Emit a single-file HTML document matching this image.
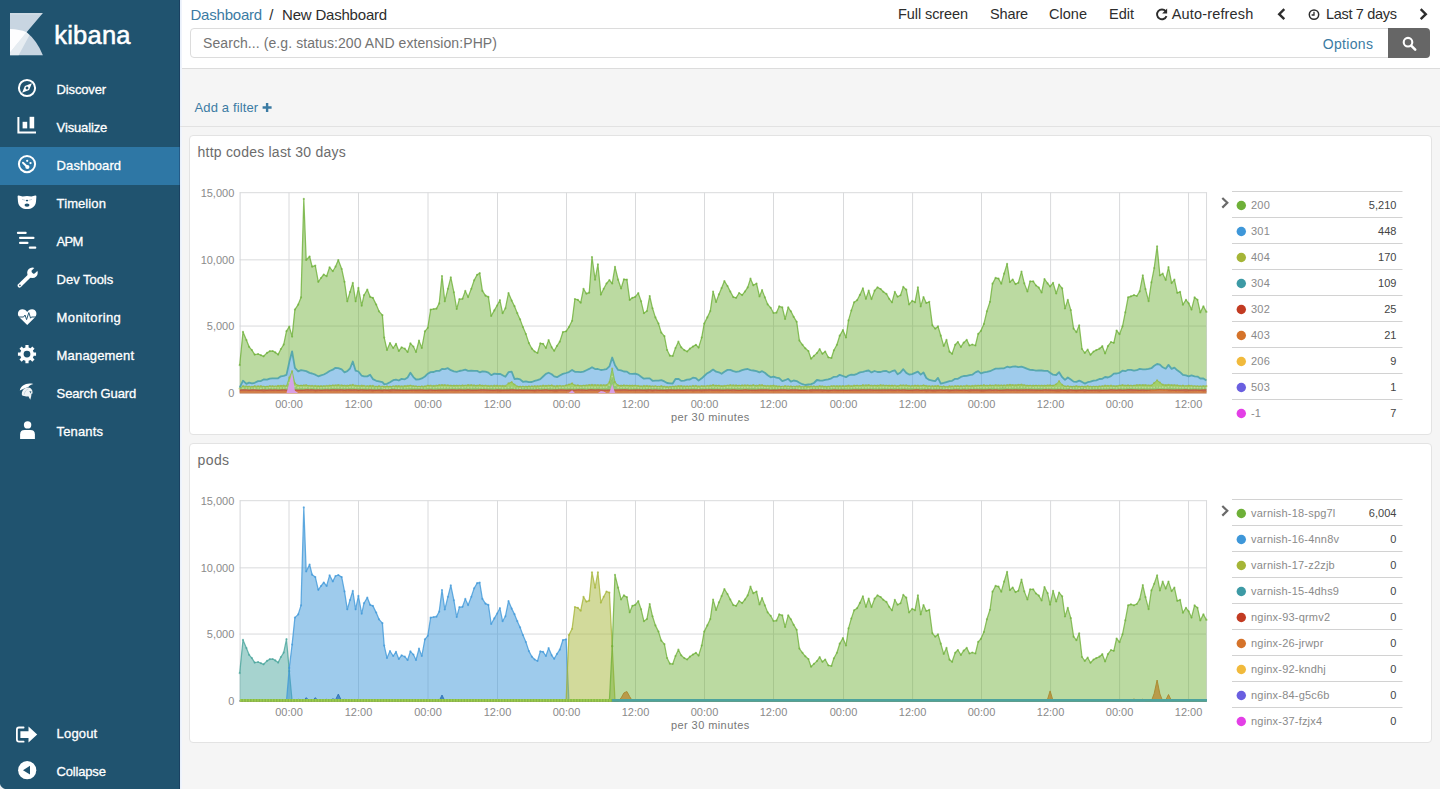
<!DOCTYPE html>
<html><head><meta charset="utf-8"><title>New Dashboard - Kibana</title>
<style>
html,body{margin:0;padding:0}
body{width:1440px;height:789px;overflow:hidden;background:#f5f5f5;font-family:"Liberation Sans", Arial, sans-serif;position:relative}
.box{position:absolute}
.t{position:absolute;white-space:pre;margin:0}
svg{position:absolute;overflow:visible}
svg text{font-family:"Liberation Sans", Arial, sans-serif}
</style></head><body>
<div class="box" style="left:0;top:0;width:180px;height:789px;background:#20536f"></div>
<div class="box" style="left:0;top:147px;width:180px;height:38px;background:#2e77a5"></div>
<div class="box" style="left:180px;top:0;width:1260px;height:68px;background:#fff;border-bottom:1px solid #dcdcdc;box-sizing:content-box"></div>
<div class="box" style="left:179px;top:0;width:1px;height:789px;background:rgba(10,20,60,0.28)"></div>
<div class="box" style="left:180px;top:0;width:2px;height:789px;background:linear-gradient(90deg,#e6eefb,#f3f6fc)"></div>
<div class="box" style="left:180px;top:126px;width:1260px;height:1px;background:#e2e2e2"></div>
<div class="box" style="left:190px;top:28px;width:1199px;height:30px;background:#fff;border:1px solid #dcdcdc;border-radius:4px 0 0 4px;box-sizing:border-box"></div>
<div class="box" style="left:1388px;top:28px;width:42px;height:30px;background:#666;border-radius:0 4px 4px 0"></div>
<div class="box" style="left:188.5px;top:135px;width:1243px;height:300px;background:#fff;border:1px solid #e3e3e3;border-radius:4px;box-sizing:border-box"></div>
<div class="box" style="left:188.5px;top:443px;width:1243px;height:300px;background:#fff;border:1px solid #e3e3e3;border-radius:4px;box-sizing:border-box"></div>
<svg width="1440" height="789" viewBox="0 0 1440 789" style="left:0;top:0">
<defs>
<marker id="m-green" markerWidth="4" markerHeight="4" refX="2" refY="2" markerUnits="userSpaceOnUse"><circle cx="2" cy="2" r="1.1" fill="#6eb038" fill-opacity="0.6"/></marker>
<marker id="m-blue" markerWidth="4" markerHeight="4" refX="2" refY="2" markerUnits="userSpaceOnUse"><circle cx="2" cy="2" r="1.1" fill="#3e97d9" fill-opacity="0.6"/></marker>
<marker id="m-olive" markerWidth="4" markerHeight="4" refX="2" refY="2" markerUnits="userSpaceOnUse"><circle cx="2" cy="2" r="1.1" fill="#a5b537" fill-opacity="0.6"/></marker>
<marker id="m-teal" markerWidth="4" markerHeight="4" refX="2" refY="2" markerUnits="userSpaceOnUse"><circle cx="2" cy="2" r="1.1" fill="#3d9aa5" fill-opacity="0.6"/></marker>
<marker id="m-red" markerWidth="4" markerHeight="4" refX="2" refY="2" markerUnits="userSpaceOnUse"><circle cx="2" cy="2" r="1.1" fill="#c23b22" fill-opacity="0.6"/></marker>
<marker id="m-orange" markerWidth="4" markerHeight="4" refX="2" refY="2" markerUnits="userSpaceOnUse"><circle cx="2" cy="2" r="1.1" fill="#d5732a" fill-opacity="0.6"/></marker>
<marker id="m-yellow" markerWidth="4" markerHeight="4" refX="2" refY="2" markerUnits="userSpaceOnUse"><circle cx="2" cy="2" r="1.1" fill="#f1ba3c" fill-opacity="0.6"/></marker>
<marker id="m-purple" markerWidth="4" markerHeight="4" refX="2" refY="2" markerUnits="userSpaceOnUse"><circle cx="2" cy="2" r="1.1" fill="#6a5fe0" fill-opacity="0.6"/></marker>
<marker id="m-magenta" markerWidth="4" markerHeight="4" refX="2" refY="2" markerUnits="userSpaceOnUse"><circle cx="2" cy="2" r="1.1" fill="#e33fe6" fill-opacity="0.6"/></marker>
<marker id="m-teal2" markerWidth="4" markerHeight="4" refX="2" refY="2" markerUnits="userSpaceOnUse"><circle cx="2" cy="2" r="1.1" fill="#45a39a" fill-opacity="0.6"/></marker>
<marker id="m-pale" markerWidth="4" markerHeight="4" refX="2" refY="2" markerUnits="userSpaceOnUse"><circle cx="2" cy="2" r="0.9" fill="#d9edb5" fill-opacity="0.5"/></marker>
</defs>
<line x1="239.6" y1="192.70" x2="1207.06" y2="192.70" stroke="#d9dadc" stroke-width="1"/>
<line x1="239.6" y1="259.85" x2="1207.06" y2="259.85" stroke="#d9dadc" stroke-width="1"/>
<line x1="239.6" y1="326.05" x2="1207.06" y2="326.05" stroke="#d9dadc" stroke-width="1"/>
<line x1="239.6" y1="393.05" x2="1207.06" y2="393.05" stroke="#d9dadc" stroke-width="1"/>
<line x1="289.00" y1="192.5" x2="289.00" y2="393.05" stroke="#d9dadc" stroke-width="1"/>
<line x1="358.50" y1="192.5" x2="358.50" y2="393.05" stroke="#d9dadc" stroke-width="1"/>
<line x1="428.00" y1="192.5" x2="428.00" y2="393.05" stroke="#d9dadc" stroke-width="1"/>
<line x1="497.50" y1="192.5" x2="497.50" y2="393.05" stroke="#d9dadc" stroke-width="1"/>
<line x1="566.50" y1="192.5" x2="566.50" y2="393.05" stroke="#d9dadc" stroke-width="1"/>
<line x1="635.50" y1="192.5" x2="635.50" y2="393.05" stroke="#d9dadc" stroke-width="1"/>
<line x1="704.50" y1="192.5" x2="704.50" y2="393.05" stroke="#d9dadc" stroke-width="1"/>
<line x1="773.50" y1="192.5" x2="773.50" y2="393.05" stroke="#d9dadc" stroke-width="1"/>
<line x1="843.50" y1="192.5" x2="843.50" y2="393.05" stroke="#d9dadc" stroke-width="1"/>
<line x1="912.60" y1="192.5" x2="912.60" y2="393.05" stroke="#d9dadc" stroke-width="1"/>
<line x1="981.50" y1="192.5" x2="981.50" y2="393.05" stroke="#d9dadc" stroke-width="1"/>
<line x1="1050.60" y1="192.5" x2="1050.60" y2="393.05" stroke="#d9dadc" stroke-width="1"/>
<line x1="1119.60" y1="192.5" x2="1119.60" y2="393.05" stroke="#d9dadc" stroke-width="1"/>
<line x1="1188.56" y1="192.5" x2="1188.56" y2="393.05" stroke="#d9dadc" stroke-width="1"/>
<line x1="240.1" y1="192.5" x2="240.1" y2="393.05" stroke="#d4d5d8" stroke-width="1"/>
<line x1="1206.56" y1="192.5" x2="1206.56" y2="393.05" stroke="#d9dadc" stroke-width="1"/>
<g>
<path d="M239.7,365.2 243.0,331.9 246.4,340.1 249.1,346.8 251.9,350.1 254.7,354.6 258.1,354.0 260.9,355.2 263.6,356.3 267.0,352.9 269.8,351.2 272.6,351.0 275.3,352.4 278.1,354.6 280.9,349.0 283.7,344.6 286.5,331.2 289.3,326.7 292.1,336.6 294.9,309.6 298.2,304.6 301.0,297.4 303.8,198.9 306.2,260.0 309.6,256.5 312.1,266.7 315.3,265.6 318.3,281.8 321.0,278.0 323.8,274.5 326.6,276.2 329.6,267.3 332.8,271.2 335.5,266.7 338.3,260.0 341.7,269.0 344.5,281.8 347.3,301.3 350.0,292.0 352.8,282.9 355.6,301.3 358.4,287.9 361.7,305.7 364.0,295.2 367.3,289.6 370.1,296.8 372.9,297.9 376.2,304.6 379.0,311.3 382.4,315.2 384.2,337.6 387.0,350.0 390.0,343.1 393.2,348.0 396.0,343.8 398.8,351.0 401.6,347.3 404.8,348.7 407.6,352.0 410.4,343.4 413.4,346.6 416.0,352.0 419.0,340.6 421.8,348.0 424.9,331.3 427.8,327.8 430.6,309.7 433.7,309.0 436.4,308.7 439.2,303.4 442.0,276.0 444.8,301.3 447.9,288.8 450.8,277.4 453.9,292.3 456.7,309.0 459.4,299.2 462.5,298.8 465.3,290.9 468.1,297.1 471.3,288.8 474.1,280.4 477.1,274.8 479.7,273.2 482.4,290.9 485.5,295.7 488.4,296.9 491.2,316.0 494.3,310.4 497.1,305.5 499.9,300.2 502.6,313.2 505.4,308.3 508.5,293.0 511.7,300.6 514.5,306.2 517.3,313.2 520.1,319.4 522.9,327.1 525.9,334.1 528.9,343.1 531.9,348.7 534.7,351.5 537.5,353.0 540.3,343.4 543.1,343.8 545.9,348.0 548.6,340.1 551.7,347.3 554.2,350.8 557.0,345.9 559.8,341.7 562.9,332.0 566.1,331.3 568.9,327.1 572.1,320.8 574.9,299.0 577.9,299.9 580.7,302.7 583.5,288.8 586.4,293.7 589.2,292.7 592.0,257.0 595.1,279.7 597.9,264.4 600.9,294.6 603.7,288.8 606.5,283.5 609.4,280.1 612.2,283.5 615.0,266.8 618.1,279.7 621.1,288.5 623.9,279.3 626.9,279.7 629.7,299.9 632.4,297.8 635.2,296.9 638.3,293.2 641.1,301.3 643.9,313.2 646.9,311.1 649.7,296.0 652.5,308.3 655.4,317.4 658.5,323.6 661.3,332.7 664.4,336.2 667.1,350.0 669.9,355.7 672.7,356.0 675.5,348.0 678.4,341.7 681.2,347.3 684.3,350.1 687.1,351.5 689.9,348.7 692.9,346.6 695.9,344.8 698.6,347.6 701.7,337.6 704.2,323.6 707.3,317.4 710.3,311.1 713.1,291.6 716.1,302.0 718.9,294.4 721.6,288.1 724.4,281.1 727.5,286.0 730.3,291.6 733.3,297.1 736.1,297.8 739.1,293.0 742.1,295.1 744.9,291.6 747.7,287.4 750.5,278.7 753.3,285.3 756.5,283.5 759.5,296.4 762.1,290.1 764.9,297.4 767.7,304.4 770.7,307.8 773.5,313.0 776.4,312.7 779.2,306.4 782.3,307.4 785.1,319.0 788.2,307.4 790.9,311.3 793.7,316.9 796.7,321.8 799.4,340.6 802.5,344.8 805.3,348.3 808.4,351.0 811.1,358.7 813.9,355.9 816.9,353.1 819.7,349.2 822.4,353.8 825.2,351.5 828.3,357.3 831.4,358.0 833.9,350.3 836.9,344.8 839.7,335.7 842.9,330.1 846.0,337.5 848.5,320.4 851.3,310.6 854.1,302.3 857.1,300.2 859.9,294.9 862.9,288.3 865.9,298.8 868.7,290.7 871.5,299.1 874.6,290.7 877.5,287.4 880.6,289.0 883.3,291.8 886.4,293.9 889.2,298.8 892.0,302.3 894.8,291.8 897.6,296.7 900.5,295.3 903.3,286.9 906.3,289.7 909.1,304.4 912.2,300.9 915.0,302.3 917.9,287.4 920.7,306.4 923.5,297.1 926.3,303.0 929.3,301.8 932.4,325.3 935.2,328.7 938.0,326.4 940.8,335.7 943.7,345.9 946.5,339.9 949.5,351.7 952.1,353.8 955.2,344.8 957.9,342.0 960.9,346.9 963.7,342.7 966.7,339.9 969.5,345.5 972.3,344.5 975.4,345.5 978.2,333.9 980.9,330.8 983.9,323.9 986.9,311.3 990.0,301.8 992.5,283.7 995.6,277.9 998.5,278.6 1001.3,283.7 1004.1,273.7 1007.1,263.9 1009.9,282.1 1012.7,279.5 1015.5,284.1 1018.3,282.8 1021.5,271.6 1024.3,283.4 1027.4,291.5 1030.1,281.4 1033.2,281.4 1036.0,285.5 1038.8,287.6 1041.6,292.5 1044.5,279.0 1047.6,283.4 1050.1,286.5 1053.1,282.8 1056.2,293.5 1059.1,284.6 1062.2,288.3 1065.0,308.5 1067.8,299.9 1070.8,310.2 1073.6,328.7 1076.4,332.2 1079.2,325.3 1082.0,349.0 1084.8,352.9 1087.7,349.7 1090.5,354.8 1093.6,351.5 1096.3,350.1 1099.4,348.7 1102.3,346.2 1105.1,353.4 1107.9,346.2 1111.0,342.0 1113.8,342.8 1116.6,330.5 1119.5,334.2 1122.5,326.3 1125.3,312.4 1128.1,297.4 1130.9,296.3 1134.0,295.2 1136.8,296.0 1139.7,291.4 1142.8,275.3 1145.5,289.2 1148.6,301.2 1151.4,282.4 1154.2,268.2 1157.1,246.4 1159.9,275.4 1162.7,273.7 1165.7,279.9 1168.5,267.1 1171.6,283.1 1174.4,279.6 1177.3,292.8 1180.1,291.9 1182.9,304.7 1186.0,299.8 1188.7,303.3 1191.5,309.6 1194.6,297.4 1197.5,299.8 1200.3,312.4 1203.4,306.4 1206.4,311.9 L1206.4,380.6 1203.4,378.5 1200.3,378.5 1197.5,376.6 1194.6,376.4 1191.5,375.4 1188.7,376.3 1186.0,375.3 1182.9,374.9 1180.1,372.2 1177.3,370.3 1174.4,367.6 1171.6,368.9 1168.5,364.9 1165.7,368.7 1162.7,367.3 1159.9,364.6 1157.1,364.0 1154.2,365.8 1151.4,368.2 1148.6,368.9 1145.5,369.3 1142.8,369.3 1139.7,368.9 1136.8,370.2 1134.0,370.6 1130.9,369.8 1128.1,369.8 1125.3,371.2 1122.5,370.7 1119.5,372.8 1116.6,373.5 1113.8,373.7 1111.0,376.2 1107.9,377.5 1105.1,377.0 1102.3,378.8 1099.4,379.0 1096.3,380.3 1093.6,380.6 1090.5,381.7 1087.7,382.2 1084.8,383.6 1082.0,381.9 1079.2,380.6 1076.4,381.9 1073.6,381.6 1070.8,379.5 1067.8,377.5 1065.0,379.9 1062.2,377.2 1059.1,372.2 1056.2,375.0 1053.1,374.7 1050.1,372.8 1047.6,370.9 1044.5,370.8 1041.6,370.5 1038.8,370.5 1036.0,370.7 1033.2,370.0 1030.1,369.9 1027.4,368.9 1024.3,367.6 1021.5,366.7 1018.3,367.2 1015.5,366.4 1012.7,366.6 1009.9,367.3 1007.1,366.7 1004.1,368.3 1001.3,368.3 998.5,368.6 995.6,368.7 992.5,370.0 990.0,371.2 986.9,371.8 983.9,372.3 980.9,373.4 978.2,371.1 975.4,372.4 972.3,374.7 969.5,375.1 966.7,375.9 963.7,376.0 960.9,376.9 957.9,378.8 955.2,378.8 952.1,380.8 949.5,381.2 946.5,382.1 943.7,382.9 940.8,383.6 938.0,377.9 935.2,381.2 932.4,380.6 929.3,379.9 926.3,378.0 923.5,372.5 920.7,374.6 917.9,371.7 915.0,372.9 912.2,374.1 909.1,374.5 906.3,372.9 903.3,369.2 900.5,372.4 897.6,374.3 894.8,370.3 892.0,371.2 889.2,372.5 886.4,371.0 883.3,371.2 880.6,372.0 877.5,372.0 874.6,371.0 871.5,372.4 868.7,370.5 865.9,371.0 862.9,371.9 859.9,372.4 857.1,373.8 854.1,374.9 851.3,374.7 848.5,375.5 846.0,377.2 842.9,376.0 839.7,374.8 836.9,376.7 833.9,376.8 831.4,378.3 828.3,379.4 825.2,379.9 822.4,380.6 819.7,380.5 816.9,380.0 813.9,383.0 811.1,384.2 808.4,384.5 805.3,385.0 802.5,384.2 799.4,382.7 796.7,381.1 793.7,380.5 790.9,381.7 788.2,378.8 785.1,380.2 782.3,381.2 779.2,378.2 776.4,377.7 773.5,376.6 770.7,377.3 767.7,375.2 764.9,372.8 762.1,371.2 759.5,372.3 756.5,371.1 753.3,370.5 750.5,370.1 747.7,369.0 744.9,369.3 742.1,370.2 739.1,371.3 736.1,371.9 733.3,371.2 730.3,369.9 727.5,369.9 724.4,371.7 721.6,373.8 718.9,372.3 716.1,371.7 713.1,369.6 710.3,371.6 707.3,373.2 704.2,376.0 701.7,378.3 698.6,380.6 695.9,378.2 692.9,377.7 689.9,379.5 687.1,379.7 684.3,380.6 681.2,380.9 678.4,378.8 675.5,379.0 672.7,383.5 669.9,383.4 667.1,383.0 664.4,381.4 661.3,380.1 658.5,380.6 655.4,380.7 652.5,380.8 649.7,378.4 646.9,378.3 643.9,378.7 641.1,376.7 638.3,374.6 635.2,373.7 632.4,373.9 629.7,373.7 626.9,371.6 623.9,371.5 621.1,370.4 618.1,369.9 615.0,365.3 612.2,357.5 609.4,366.4 606.5,369.2 603.7,369.7 600.9,370.0 597.9,369.0 595.1,369.1 592.0,367.2 589.2,368.9 586.4,370.2 583.5,371.6 580.7,372.1 577.9,371.8 574.9,371.8 572.1,370.0 568.9,372.1 566.1,373.0 562.9,373.9 559.8,375.5 557.0,377.2 554.2,376.4 551.7,374.2 548.6,372.7 545.9,373.9 543.1,376.5 540.3,379.1 537.5,380.2 534.7,380.9 531.9,382.0 528.9,382.2 525.9,381.3 522.9,381.8 520.1,379.4 517.3,378.6 514.5,379.0 511.7,371.7 508.5,372.2 505.4,376.8 502.6,375.3 499.9,373.8 497.1,374.0 494.3,373.6 491.2,375.2 488.4,372.7 485.5,371.7 482.4,371.3 479.7,372.3 477.1,370.9 474.1,370.9 471.3,370.7 468.1,370.8 465.3,369.6 462.5,370.4 459.4,371.0 456.7,371.8 453.9,371.4 450.8,370.2 447.9,368.2 444.8,369.1 442.0,368.9 439.2,370.9 436.4,370.9 433.7,372.0 430.6,372.1 427.8,373.7 424.9,376.5 421.8,378.4 419.0,379.3 416.0,379.5 413.4,377.1 410.4,372.7 407.6,377.5 404.8,379.3 401.6,378.9 398.8,380.5 396.0,379.6 393.2,380.2 390.0,382.2 387.0,383.8 384.2,384.2 382.4,382.1 379.0,381.4 376.2,380.8 372.9,379.1 370.1,374.8 367.3,376.4 364.0,376.3 361.7,375.7 358.4,371.5 355.6,370.7 352.8,361.5 350.0,368.5 347.3,371.1 344.5,372.3 341.7,369.4 338.3,368.1 335.5,367.8 332.8,369.7 329.6,371.0 326.6,373.0 323.8,374.5 321.0,375.4 318.3,376.3 315.3,374.7 312.1,373.5 309.6,372.9 306.2,371.1 303.8,370.6 301.0,370.1 298.2,371.3 294.9,367.8 292.1,351.3 289.3,362.1 286.5,374.9 283.7,375.8 280.9,376.3 278.1,378.3 275.3,378.3 272.6,378.4 269.8,378.7 267.0,379.7 263.6,379.4 260.9,381.1 258.1,381.1 254.7,382.8 251.9,383.3 249.1,382.6 246.4,383.9 243.0,380.7 239.7,387.7Z" fill="#6eb038" fill-opacity="0.47"/>
<path d="M239.7,387.7 243.0,380.7 246.4,383.9 249.1,382.6 251.9,383.3 254.7,382.8 258.1,381.1 260.9,381.1 263.6,379.4 267.0,379.7 269.8,378.7 272.6,378.4 275.3,378.3 278.1,378.3 280.9,376.3 283.7,375.8 286.5,374.9 289.3,362.1 292.1,351.3 294.9,367.8 298.2,371.3 301.0,370.1 303.8,370.6 306.2,371.1 309.6,372.9 312.1,373.5 315.3,374.7 318.3,376.3 321.0,375.4 323.8,374.5 326.6,373.0 329.6,371.0 332.8,369.7 335.5,367.8 338.3,368.1 341.7,369.4 344.5,372.3 347.3,371.1 350.0,368.5 352.8,361.5 355.6,370.7 358.4,371.5 361.7,375.7 364.0,376.3 367.3,376.4 370.1,374.8 372.9,379.1 376.2,380.8 379.0,381.4 382.4,382.1 384.2,384.2 387.0,383.8 390.0,382.2 393.2,380.2 396.0,379.6 398.8,380.5 401.6,378.9 404.8,379.3 407.6,377.5 410.4,372.7 413.4,377.1 416.0,379.5 419.0,379.3 421.8,378.4 424.9,376.5 427.8,373.7 430.6,372.1 433.7,372.0 436.4,370.9 439.2,370.9 442.0,368.9 444.8,369.1 447.9,368.2 450.8,370.2 453.9,371.4 456.7,371.8 459.4,371.0 462.5,370.4 465.3,369.6 468.1,370.8 471.3,370.7 474.1,370.9 477.1,370.9 479.7,372.3 482.4,371.3 485.5,371.7 488.4,372.7 491.2,375.2 494.3,373.6 497.1,374.0 499.9,373.8 502.6,375.3 505.4,376.8 508.5,372.2 511.7,371.7 514.5,379.0 517.3,378.6 520.1,379.4 522.9,381.8 525.9,381.3 528.9,382.2 531.9,382.0 534.7,380.9 537.5,380.2 540.3,379.1 543.1,376.5 545.9,373.9 548.6,372.7 551.7,374.2 554.2,376.4 557.0,377.2 559.8,375.5 562.9,373.9 566.1,373.0 568.9,372.1 572.1,370.0 574.9,371.8 577.9,371.8 580.7,372.1 583.5,371.6 586.4,370.2 589.2,368.9 592.0,367.2 595.1,369.1 597.9,369.0 600.9,370.0 603.7,369.7 606.5,369.2 609.4,366.4 612.2,357.5 615.0,365.3 618.1,369.9 621.1,370.4 623.9,371.5 626.9,371.6 629.7,373.7 632.4,373.9 635.2,373.7 638.3,374.6 641.1,376.7 643.9,378.7 646.9,378.3 649.7,378.4 652.5,380.8 655.4,380.7 658.5,380.6 661.3,380.1 664.4,381.4 667.1,383.0 669.9,383.4 672.7,383.5 675.5,379.0 678.4,378.8 681.2,380.9 684.3,380.6 687.1,379.7 689.9,379.5 692.9,377.7 695.9,378.2 698.6,380.6 701.7,378.3 704.2,376.0 707.3,373.2 710.3,371.6 713.1,369.6 716.1,371.7 718.9,372.3 721.6,373.8 724.4,371.7 727.5,369.9 730.3,369.9 733.3,371.2 736.1,371.9 739.1,371.3 742.1,370.2 744.9,369.3 747.7,369.0 750.5,370.1 753.3,370.5 756.5,371.1 759.5,372.3 762.1,371.2 764.9,372.8 767.7,375.2 770.7,377.3 773.5,376.6 776.4,377.7 779.2,378.2 782.3,381.2 785.1,380.2 788.2,378.8 790.9,381.7 793.7,380.5 796.7,381.1 799.4,382.7 802.5,384.2 805.3,385.0 808.4,384.5 811.1,384.2 813.9,383.0 816.9,380.0 819.7,380.5 822.4,380.6 825.2,379.9 828.3,379.4 831.4,378.3 833.9,376.8 836.9,376.7 839.7,374.8 842.9,376.0 846.0,377.2 848.5,375.5 851.3,374.7 854.1,374.9 857.1,373.8 859.9,372.4 862.9,371.9 865.9,371.0 868.7,370.5 871.5,372.4 874.6,371.0 877.5,372.0 880.6,372.0 883.3,371.2 886.4,371.0 889.2,372.5 892.0,371.2 894.8,370.3 897.6,374.3 900.5,372.4 903.3,369.2 906.3,372.9 909.1,374.5 912.2,374.1 915.0,372.9 917.9,371.7 920.7,374.6 923.5,372.5 926.3,378.0 929.3,379.9 932.4,380.6 935.2,381.2 938.0,377.9 940.8,383.6 943.7,382.9 946.5,382.1 949.5,381.2 952.1,380.8 955.2,378.8 957.9,378.8 960.9,376.9 963.7,376.0 966.7,375.9 969.5,375.1 972.3,374.7 975.4,372.4 978.2,371.1 980.9,373.4 983.9,372.3 986.9,371.8 990.0,371.2 992.5,370.0 995.6,368.7 998.5,368.6 1001.3,368.3 1004.1,368.3 1007.1,366.7 1009.9,367.3 1012.7,366.6 1015.5,366.4 1018.3,367.2 1021.5,366.7 1024.3,367.6 1027.4,368.9 1030.1,369.9 1033.2,370.0 1036.0,370.7 1038.8,370.5 1041.6,370.5 1044.5,370.8 1047.6,370.9 1050.1,372.8 1053.1,374.7 1056.2,375.0 1059.1,372.2 1062.2,377.2 1065.0,379.9 1067.8,377.5 1070.8,379.5 1073.6,381.6 1076.4,381.9 1079.2,380.6 1082.0,381.9 1084.8,383.6 1087.7,382.2 1090.5,381.7 1093.6,380.6 1096.3,380.3 1099.4,379.0 1102.3,378.8 1105.1,377.0 1107.9,377.5 1111.0,376.2 1113.8,373.7 1116.6,373.5 1119.5,372.8 1122.5,370.7 1125.3,371.2 1128.1,369.8 1130.9,369.8 1134.0,370.6 1136.8,370.2 1139.7,368.9 1142.8,369.3 1145.5,369.3 1148.6,368.9 1151.4,368.2 1154.2,365.8 1157.1,364.0 1159.9,364.6 1162.7,367.3 1165.7,368.7 1168.5,364.9 1171.6,368.9 1174.4,367.6 1177.3,370.3 1180.1,372.2 1182.9,374.9 1186.0,375.3 1188.7,376.3 1191.5,375.4 1194.6,376.4 1197.5,376.6 1200.3,378.5 1203.4,378.5 1206.4,380.6 L1206.4,386.2 1203.4,386.0 1200.3,386.3 1197.5,386.2 1194.6,386.1 1191.5,385.8 1188.7,385.6 1186.0,386.0 1182.9,385.6 1180.1,385.9 1177.3,385.3 1174.4,385.2 1171.6,385.1 1168.5,384.8 1165.7,385.1 1162.7,384.7 1159.9,382.5 1157.1,380.3 1154.2,382.9 1151.4,385.3 1148.6,385.4 1145.5,385.0 1142.8,385.0 1139.7,385.0 1136.8,385.1 1134.0,385.5 1130.9,385.7 1128.1,385.3 1125.3,385.5 1122.5,385.1 1119.5,385.5 1116.6,386.0 1113.8,386.0 1111.0,385.7 1107.9,385.8 1105.1,385.7 1102.3,386.2 1099.4,386.3 1096.3,386.5 1093.6,386.5 1090.5,386.6 1087.7,386.2 1084.8,386.5 1082.0,386.5 1079.2,386.6 1076.4,386.1 1073.6,386.6 1070.8,386.5 1067.8,386.2 1065.0,386.4 1062.2,384.8 1059.1,381.2 1056.2,384.3 1053.1,385.6 1050.1,385.3 1047.6,385.4 1044.5,385.6 1041.6,385.6 1038.8,385.7 1036.0,385.5 1033.2,385.6 1030.1,385.6 1027.4,385.5 1024.3,385.2 1021.5,384.7 1018.3,384.8 1015.5,385.2 1012.7,385.0 1009.9,384.8 1007.1,385.2 1004.1,385.4 1001.3,385.4 998.5,385.3 995.6,385.2 992.5,385.5 990.0,385.3 986.9,385.7 983.9,385.2 980.9,385.5 978.2,385.6 975.4,385.7 972.3,385.8 969.5,386.1 966.7,385.6 963.7,386.2 960.9,386.1 957.9,386.1 955.2,386.0 952.1,386.4 949.5,386.2 946.5,386.8 943.7,386.4 940.8,386.6 938.0,385.8 935.2,386.1 932.4,386.2 929.3,386.1 926.3,385.8 923.5,385.3 920.7,385.9 917.9,385.7 915.0,385.6 912.2,385.9 909.1,385.9 906.3,385.3 903.3,385.4 900.5,385.3 897.6,386.0 894.8,385.7 892.0,385.6 889.2,385.6 886.4,385.5 883.3,385.4 880.6,385.2 877.5,385.6 874.6,385.5 871.5,385.7 868.7,385.1 865.9,385.3 862.9,385.2 859.9,385.8 857.1,385.5 854.1,385.6 851.3,386.1 848.5,385.6 846.0,386.1 842.9,386.0 839.7,386.0 836.9,386.1 833.9,386.0 831.4,386.1 828.3,386.6 825.2,386.6 822.4,386.3 819.7,386.1 816.9,386.5 813.9,386.4 811.1,386.4 808.4,386.7 805.3,386.5 802.5,386.9 799.4,386.2 796.7,386.4 793.7,386.6 790.9,386.4 788.2,386.4 785.1,386.0 782.3,386.6 779.2,386.3 776.4,386.1 773.5,385.6 770.7,385.8 767.7,385.9 764.9,385.9 762.1,385.2 759.5,385.2 756.5,385.7 753.3,385.1 750.5,385.6 747.7,385.3 744.9,385.3 742.1,385.4 739.1,385.6 736.1,385.4 733.3,385.3 730.3,385.2 727.5,385.5 724.4,385.8 721.6,386.0 718.9,385.5 716.1,385.6 713.1,385.1 710.3,385.7 707.3,385.9 704.2,386.2 701.7,386.0 698.6,386.3 695.9,385.9 692.9,385.9 689.9,386.3 687.1,386.3 684.3,386.3 681.2,386.0 678.4,386.0 675.5,386.4 672.7,386.5 669.9,386.8 667.1,386.9 664.4,386.6 661.3,386.1 658.5,386.6 655.4,386.2 652.5,386.3 649.7,386.1 646.9,385.9 643.9,385.9 641.1,386.3 638.3,385.8 635.2,385.6 632.4,385.6 629.7,385.6 626.9,385.5 623.9,385.3 621.1,385.7 618.1,385.4 615.0,382.1 612.2,368.5 609.4,382.1 606.5,385.1 603.7,385.2 600.9,385.1 597.9,385.2 595.1,385.0 592.0,384.9 589.2,385.0 586.4,385.4 583.5,385.5 580.7,385.8 577.9,385.3 574.9,385.3 572.1,383.4 568.9,384.5 566.1,385.4 562.9,386.0 559.8,385.8 557.0,385.9 554.2,386.2 551.7,385.4 548.6,385.7 545.9,385.8 543.1,385.7 540.3,386.0 537.5,386.2 534.7,386.2 531.9,386.4 528.9,386.4 525.9,386.6 522.9,386.6 520.1,386.6 517.3,386.4 514.5,384.5 511.7,382.2 508.5,383.3 505.4,385.9 502.6,385.8 499.9,385.9 497.1,385.7 494.3,385.7 491.2,385.9 488.4,385.9 485.5,385.6 482.4,385.6 479.7,385.2 477.1,385.6 474.1,385.4 471.3,385.1 468.1,385.1 465.3,385.5 462.5,385.4 459.4,385.7 456.7,385.5 453.9,385.6 450.8,385.5 447.9,385.3 444.8,385.1 442.0,385.0 439.2,385.2 436.4,385.7 433.7,385.8 430.6,385.7 427.8,385.5 424.9,386.3 421.8,386.4 419.0,386.5 416.0,386.3 413.4,386.1 410.4,385.5 407.6,385.9 404.8,386.0 401.6,386.3 398.8,386.0 396.0,386.1 393.2,386.3 390.0,386.6 387.0,386.4 384.2,386.7 382.4,386.5 379.0,386.2 376.2,386.6 372.9,385.9 370.1,385.8 367.3,386.2 364.0,385.9 361.7,385.7 358.4,385.8 355.6,385.6 352.8,384.9 350.0,385.3 347.3,385.7 344.5,385.6 341.7,385.4 338.3,385.0 335.5,385.3 332.8,385.4 329.6,385.6 326.6,385.9 323.8,386.0 321.0,386.1 318.3,386.1 315.3,385.8 312.1,385.9 309.6,385.8 306.2,385.2 303.8,385.4 301.0,385.5 298.2,385.5 294.9,383.4 292.1,371.0 289.3,377.7 286.5,386.1 283.7,385.7 280.9,385.8 278.1,385.8 275.3,386.4 272.6,386.2 269.8,386.0 267.0,386.6 263.6,386.5 260.9,386.2 258.1,386.3 254.7,386.2 251.9,386.8 249.1,386.7 246.4,386.4 243.0,386.1 239.7,388.5Z" fill="#3e97d9" fill-opacity="0.5"/>
<path d="M239.7,388.5 243.0,386.1 246.4,386.4 249.1,386.7 251.9,386.8 254.7,386.2 258.1,386.3 260.9,386.2 263.6,386.5 267.0,386.6 269.8,386.0 272.6,386.2 275.3,386.4 278.1,385.8 280.9,385.8 283.7,385.7 286.5,386.1 289.3,377.7 292.1,371.0 294.9,383.4 298.2,385.5 301.0,385.5 303.8,385.4 306.2,385.2 309.6,385.8 312.1,385.9 315.3,385.8 318.3,386.1 321.0,386.1 323.8,386.0 326.6,385.9 329.6,385.6 332.8,385.4 335.5,385.3 338.3,385.0 341.7,385.4 344.5,385.6 347.3,385.7 350.0,385.3 352.8,384.9 355.6,385.6 358.4,385.8 361.7,385.7 364.0,385.9 367.3,386.2 370.1,385.8 372.9,385.9 376.2,386.6 379.0,386.2 382.4,386.5 384.2,386.7 387.0,386.4 390.0,386.6 393.2,386.3 396.0,386.1 398.8,386.0 401.6,386.3 404.8,386.0 407.6,385.9 410.4,385.5 413.4,386.1 416.0,386.3 419.0,386.5 421.8,386.4 424.9,386.3 427.8,385.5 430.6,385.7 433.7,385.8 436.4,385.7 439.2,385.2 442.0,385.0 444.8,385.1 447.9,385.3 450.8,385.5 453.9,385.6 456.7,385.5 459.4,385.7 462.5,385.4 465.3,385.5 468.1,385.1 471.3,385.1 474.1,385.4 477.1,385.6 479.7,385.2 482.4,385.6 485.5,385.6 488.4,385.9 491.2,385.9 494.3,385.7 497.1,385.7 499.9,385.9 502.6,385.8 505.4,385.9 508.5,383.3 511.7,382.2 514.5,384.5 517.3,386.4 520.1,386.6 522.9,386.6 525.9,386.6 528.9,386.4 531.9,386.4 534.7,386.2 537.5,386.2 540.3,386.0 543.1,385.7 545.9,385.8 548.6,385.7 551.7,385.4 554.2,386.2 557.0,385.9 559.8,385.8 562.9,386.0 566.1,385.4 568.9,384.5 572.1,383.4 574.9,385.3 577.9,385.3 580.7,385.8 583.5,385.5 586.4,385.4 589.2,385.0 592.0,384.9 595.1,385.0 597.9,385.2 600.9,385.1 603.7,385.2 606.5,385.1 609.4,382.1 612.2,368.5 615.0,382.1 618.1,385.4 621.1,385.7 623.9,385.3 626.9,385.5 629.7,385.6 632.4,385.6 635.2,385.6 638.3,385.8 641.1,386.3 643.9,385.9 646.9,385.9 649.7,386.1 652.5,386.3 655.4,386.2 658.5,386.6 661.3,386.1 664.4,386.6 667.1,386.9 669.9,386.8 672.7,386.5 675.5,386.4 678.4,386.0 681.2,386.0 684.3,386.3 687.1,386.3 689.9,386.3 692.9,385.9 695.9,385.9 698.6,386.3 701.7,386.0 704.2,386.2 707.3,385.9 710.3,385.7 713.1,385.1 716.1,385.6 718.9,385.5 721.6,386.0 724.4,385.8 727.5,385.5 730.3,385.2 733.3,385.3 736.1,385.4 739.1,385.6 742.1,385.4 744.9,385.3 747.7,385.3 750.5,385.6 753.3,385.1 756.5,385.7 759.5,385.2 762.1,385.2 764.9,385.9 767.7,385.9 770.7,385.8 773.5,385.6 776.4,386.1 779.2,386.3 782.3,386.6 785.1,386.0 788.2,386.4 790.9,386.4 793.7,386.6 796.7,386.4 799.4,386.2 802.5,386.9 805.3,386.5 808.4,386.7 811.1,386.4 813.9,386.4 816.9,386.5 819.7,386.1 822.4,386.3 825.2,386.6 828.3,386.6 831.4,386.1 833.9,386.0 836.9,386.1 839.7,386.0 842.9,386.0 846.0,386.1 848.5,385.6 851.3,386.1 854.1,385.6 857.1,385.5 859.9,385.8 862.9,385.2 865.9,385.3 868.7,385.1 871.5,385.7 874.6,385.5 877.5,385.6 880.6,385.2 883.3,385.4 886.4,385.5 889.2,385.6 892.0,385.6 894.8,385.7 897.6,386.0 900.5,385.3 903.3,385.4 906.3,385.3 909.1,385.9 912.2,385.9 915.0,385.6 917.9,385.7 920.7,385.9 923.5,385.3 926.3,385.8 929.3,386.1 932.4,386.2 935.2,386.1 938.0,385.8 940.8,386.6 943.7,386.4 946.5,386.8 949.5,386.2 952.1,386.4 955.2,386.0 957.9,386.1 960.9,386.1 963.7,386.2 966.7,385.6 969.5,386.1 972.3,385.8 975.4,385.7 978.2,385.6 980.9,385.5 983.9,385.2 986.9,385.7 990.0,385.3 992.5,385.5 995.6,385.2 998.5,385.3 1001.3,385.4 1004.1,385.4 1007.1,385.2 1009.9,384.8 1012.7,385.0 1015.5,385.2 1018.3,384.8 1021.5,384.7 1024.3,385.2 1027.4,385.5 1030.1,385.6 1033.2,385.6 1036.0,385.5 1038.8,385.7 1041.6,385.6 1044.5,385.6 1047.6,385.4 1050.1,385.3 1053.1,385.6 1056.2,384.3 1059.1,381.2 1062.2,384.8 1065.0,386.4 1067.8,386.2 1070.8,386.5 1073.6,386.6 1076.4,386.1 1079.2,386.6 1082.0,386.5 1084.8,386.5 1087.7,386.2 1090.5,386.6 1093.6,386.5 1096.3,386.5 1099.4,386.3 1102.3,386.2 1105.1,385.7 1107.9,385.8 1111.0,385.7 1113.8,386.0 1116.6,386.0 1119.5,385.5 1122.5,385.1 1125.3,385.5 1128.1,385.3 1130.9,385.7 1134.0,385.5 1136.8,385.1 1139.7,385.0 1142.8,385.0 1145.5,385.0 1148.6,385.4 1151.4,385.3 1154.2,382.9 1157.1,380.3 1159.9,382.5 1162.7,384.7 1165.7,385.1 1168.5,384.8 1171.6,385.1 1174.4,385.2 1177.3,385.3 1180.1,385.9 1182.9,385.6 1186.0,386.0 1188.7,385.6 1191.5,385.8 1194.6,386.1 1197.5,386.2 1200.3,386.3 1203.4,386.0 1206.4,386.2 L1206.4,387.7 1203.4,388.0 1200.3,387.7 1197.5,387.6 1194.6,387.4 1191.5,387.5 1188.7,388.0 1186.0,387.4 1182.9,387.7 1180.1,387.5 1177.3,387.7 1174.4,387.3 1171.6,387.2 1168.5,387.0 1165.7,387.6 1162.7,387.2 1159.9,387.4 1157.1,387.1 1154.2,387.3 1151.4,387.6 1148.6,387.4 1145.5,387.6 1142.8,387.6 1139.7,387.4 1136.8,387.6 1134.0,387.5 1130.9,387.2 1128.1,387.3 1125.3,387.6 1122.5,387.5 1119.5,387.5 1116.6,387.9 1113.8,387.6 1111.0,387.8 1107.9,387.7 1105.1,387.8 1102.3,387.8 1099.4,387.9 1096.3,388.0 1093.6,387.9 1090.5,388.0 1087.7,388.0 1084.8,388.3 1082.0,387.8 1079.2,388.2 1076.4,387.9 1073.6,388.0 1070.8,388.2 1067.8,387.6 1065.0,387.8 1062.2,387.9 1059.1,387.8 1056.2,387.7 1053.1,387.6 1050.1,387.6 1047.6,387.6 1044.5,387.7 1041.6,387.3 1038.8,387.2 1036.0,387.5 1033.2,387.6 1030.1,387.2 1027.4,387.6 1024.3,387.1 1021.5,387.2 1018.3,387.0 1015.5,387.3 1012.7,387.0 1009.9,387.6 1007.1,387.3 1004.1,387.1 1001.3,387.1 998.5,387.6 995.6,387.5 992.5,387.1 990.0,387.3 986.9,387.5 983.9,387.8 980.9,387.3 978.2,387.5 975.4,387.7 972.3,387.9 969.5,387.7 966.7,387.8 963.7,387.6 960.9,388.0 957.9,387.6 955.2,387.8 952.1,387.9 949.5,388.3 946.5,388.2 943.7,388.1 940.8,387.9 938.0,387.9 935.2,387.8 932.4,388.0 929.3,387.7 926.3,388.1 923.5,387.7 920.7,387.5 917.9,387.7 915.0,387.7 912.2,387.3 909.1,387.4 906.3,387.6 903.3,387.5 900.5,387.5 897.6,387.8 894.8,387.2 892.0,387.6 889.2,387.7 886.4,387.5 883.3,387.4 880.6,387.7 877.5,387.8 874.6,387.4 871.5,387.5 868.7,387.5 865.9,387.7 862.9,387.8 859.9,387.5 857.1,387.4 854.1,387.8 851.3,387.8 848.5,387.9 846.0,387.7 842.9,387.8 839.7,388.0 836.9,387.9 833.9,387.7 831.4,387.8 828.3,388.0 825.2,388.1 822.4,388.2 819.7,388.0 816.9,388.1 813.9,388.0 811.1,388.1 808.4,388.4 805.3,387.9 802.5,388.0 799.4,388.2 796.7,388.0 793.7,387.7 790.9,388.1 788.2,387.6 785.1,387.9 782.3,387.7 779.2,388.0 776.4,388.0 773.5,387.9 770.7,388.1 767.7,387.4 764.9,387.4 762.1,387.3 759.5,387.6 756.5,387.7 753.3,387.2 750.5,387.3 747.7,387.2 744.9,387.6 742.1,387.4 739.1,387.2 736.1,387.6 733.3,387.6 730.3,387.4 727.5,387.2 724.4,387.7 721.6,387.8 718.9,387.7 716.1,387.7 713.1,387.3 710.3,387.6 707.3,387.5 704.2,387.8 701.7,387.6 698.6,388.2 695.9,387.7 692.9,387.6 689.9,387.7 687.1,387.8 684.3,387.9 681.2,388.0 678.4,388.0 675.5,387.9 672.7,388.0 669.9,388.1 667.1,388.3 664.4,388.2 661.3,388.1 658.5,387.7 655.4,387.7 652.5,387.7 649.7,387.9 646.9,387.8 643.9,388.1 641.1,388.0 638.3,387.8 635.2,387.5 632.4,387.8 629.7,387.9 626.9,387.3 623.9,387.6 621.1,387.6 618.1,387.5 615.0,385.2 612.2,376.6 609.4,385.1 606.5,387.2 603.7,387.2 600.9,387.6 597.9,387.1 595.1,387.4 592.0,387.3 589.2,387.5 586.4,387.5 583.5,387.2 580.7,387.3 577.9,387.5 574.9,387.7 572.1,387.7 568.9,387.3 566.1,387.5 562.9,387.4 559.8,387.5 557.0,388.1 554.2,387.9 551.7,387.7 548.6,387.4 545.9,387.8 543.1,387.7 540.3,387.6 537.5,388.1 534.7,388.1 531.9,387.8 528.9,387.9 525.9,388.1 522.9,387.8 520.1,388.2 517.3,388.1 514.5,388.1 511.7,387.3 508.5,387.3 505.4,387.8 502.6,388.0 499.9,387.4 497.1,387.7 494.3,387.8 491.2,387.4 488.4,387.6 485.5,387.5 482.4,387.8 479.7,387.6 477.1,387.3 474.1,387.3 471.3,387.5 468.1,387.6 465.3,387.1 462.5,387.7 459.4,387.2 456.7,387.6 453.9,387.6 450.8,387.7 447.9,387.5 444.8,387.5 442.0,387.4 439.2,387.5 436.4,387.4 433.7,387.8 430.6,387.4 427.8,387.3 424.9,387.9 421.8,387.9 419.0,387.6 416.0,387.6 413.4,387.6 410.4,387.3 407.6,387.6 404.8,387.9 401.6,388.1 398.8,388.2 396.0,388.1 393.2,387.6 390.0,388.2 387.0,388.2 384.2,388.3 382.4,387.8 379.0,387.9 376.2,388.0 372.9,388.0 370.1,387.9 367.3,387.7 364.0,387.5 361.7,387.8 358.4,387.3 355.6,387.6 352.8,387.2 350.0,387.2 347.3,387.6 344.5,387.3 341.7,387.6 338.3,387.3 335.5,387.2 332.8,387.2 329.6,387.7 326.6,387.5 323.8,387.7 321.0,387.8 318.3,388.0 315.3,387.8 312.1,387.3 309.6,387.5 306.2,387.6 303.8,387.5 301.0,387.3 298.2,387.5 294.9,386.7 292.1,378.5 289.3,382.8 286.5,387.4 283.7,387.9 280.9,387.9 278.1,387.9 275.3,387.6 272.6,387.8 269.8,387.6 267.0,387.9 263.6,388.0 260.9,388.3 258.1,387.9 254.7,388.2 251.9,388.1 249.1,388.0 246.4,388.1 243.0,388.2 239.7,389.1Z" fill="#9ccd66" fill-opacity="0.95"/>
<path d="M239.7,389.1 243.0,388.2 246.4,388.1 249.1,388.0 251.9,388.1 254.7,388.2 258.1,387.9 260.9,388.3 263.6,388.0 267.0,387.9 269.8,387.6 272.6,387.8 275.3,387.6 278.1,387.9 280.9,387.9 283.7,387.9 286.5,387.4 289.3,382.8 292.1,378.5 294.9,386.7 298.2,387.5 301.0,387.3 303.8,387.5 306.2,387.6 309.6,387.5 312.1,387.3 315.3,387.8 318.3,388.0 321.0,387.8 323.8,387.7 326.6,387.5 329.6,387.7 332.8,387.2 335.5,387.2 338.3,387.3 341.7,387.6 344.5,387.3 347.3,387.6 350.0,387.2 352.8,387.2 355.6,387.6 358.4,387.3 361.7,387.8 364.0,387.5 367.3,387.7 370.1,387.9 372.9,388.0 376.2,388.0 379.0,387.9 382.4,387.8 384.2,388.3 387.0,388.2 390.0,388.2 393.2,387.6 396.0,388.1 398.8,388.2 401.6,388.1 404.8,387.9 407.6,387.6 410.4,387.3 413.4,387.6 416.0,387.6 419.0,387.6 421.8,387.9 424.9,387.9 427.8,387.3 430.6,387.4 433.7,387.8 436.4,387.4 439.2,387.5 442.0,387.4 444.8,387.5 447.9,387.5 450.8,387.7 453.9,387.6 456.7,387.6 459.4,387.2 462.5,387.7 465.3,387.1 468.1,387.6 471.3,387.5 474.1,387.3 477.1,387.3 479.7,387.6 482.4,387.8 485.5,387.5 488.4,387.6 491.2,387.4 494.3,387.8 497.1,387.7 499.9,387.4 502.6,388.0 505.4,387.8 508.5,387.3 511.7,387.3 514.5,388.1 517.3,388.1 520.1,388.2 522.9,387.8 525.9,388.1 528.9,387.9 531.9,387.8 534.7,388.1 537.5,388.1 540.3,387.6 543.1,387.7 545.9,387.8 548.6,387.4 551.7,387.7 554.2,387.9 557.0,388.1 559.8,387.5 562.9,387.4 566.1,387.5 568.9,387.3 572.1,387.7 574.9,387.7 577.9,387.5 580.7,387.3 583.5,387.2 586.4,387.5 589.2,387.5 592.0,387.3 595.1,387.4 597.9,387.1 600.9,387.6 603.7,387.2 606.5,387.2 609.4,385.1 612.2,376.6 615.0,385.2 618.1,387.5 621.1,387.6 623.9,387.6 626.9,387.3 629.7,387.9 632.4,387.8 635.2,387.5 638.3,387.8 641.1,388.0 643.9,388.1 646.9,387.8 649.7,387.9 652.5,387.7 655.4,387.7 658.5,387.7 661.3,388.1 664.4,388.2 667.1,388.3 669.9,388.1 672.7,388.0 675.5,387.9 678.4,388.0 681.2,388.0 684.3,387.9 687.1,387.8 689.9,387.7 692.9,387.6 695.9,387.7 698.6,388.2 701.7,387.6 704.2,387.8 707.3,387.5 710.3,387.6 713.1,387.3 716.1,387.7 718.9,387.7 721.6,387.8 724.4,387.7 727.5,387.2 730.3,387.4 733.3,387.6 736.1,387.6 739.1,387.2 742.1,387.4 744.9,387.6 747.7,387.2 750.5,387.3 753.3,387.2 756.5,387.7 759.5,387.6 762.1,387.3 764.9,387.4 767.7,387.4 770.7,388.1 773.5,387.9 776.4,388.0 779.2,388.0 782.3,387.7 785.1,387.9 788.2,387.6 790.9,388.1 793.7,387.7 796.7,388.0 799.4,388.2 802.5,388.0 805.3,387.9 808.4,388.4 811.1,388.1 813.9,388.0 816.9,388.1 819.7,388.0 822.4,388.2 825.2,388.1 828.3,388.0 831.4,387.8 833.9,387.7 836.9,387.9 839.7,388.0 842.9,387.8 846.0,387.7 848.5,387.9 851.3,387.8 854.1,387.8 857.1,387.4 859.9,387.5 862.9,387.8 865.9,387.7 868.7,387.5 871.5,387.5 874.6,387.4 877.5,387.8 880.6,387.7 883.3,387.4 886.4,387.5 889.2,387.7 892.0,387.6 894.8,387.2 897.6,387.8 900.5,387.5 903.3,387.5 906.3,387.6 909.1,387.4 912.2,387.3 915.0,387.7 917.9,387.7 920.7,387.5 923.5,387.7 926.3,388.1 929.3,387.7 932.4,388.0 935.2,387.8 938.0,387.9 940.8,387.9 943.7,388.1 946.5,388.2 949.5,388.3 952.1,387.9 955.2,387.8 957.9,387.6 960.9,388.0 963.7,387.6 966.7,387.8 969.5,387.7 972.3,387.9 975.4,387.7 978.2,387.5 980.9,387.3 983.9,387.8 986.9,387.5 990.0,387.3 992.5,387.1 995.6,387.5 998.5,387.6 1001.3,387.1 1004.1,387.1 1007.1,387.3 1009.9,387.6 1012.7,387.0 1015.5,387.3 1018.3,387.0 1021.5,387.2 1024.3,387.1 1027.4,387.6 1030.1,387.2 1033.2,387.6 1036.0,387.5 1038.8,387.2 1041.6,387.3 1044.5,387.7 1047.6,387.6 1050.1,387.6 1053.1,387.6 1056.2,387.7 1059.1,387.8 1062.2,387.9 1065.0,387.8 1067.8,387.6 1070.8,388.2 1073.6,388.0 1076.4,387.9 1079.2,388.2 1082.0,387.8 1084.8,388.3 1087.7,388.0 1090.5,388.0 1093.6,387.9 1096.3,388.0 1099.4,387.9 1102.3,387.8 1105.1,387.8 1107.9,387.7 1111.0,387.8 1113.8,387.6 1116.6,387.9 1119.5,387.5 1122.5,387.5 1125.3,387.6 1128.1,387.3 1130.9,387.2 1134.0,387.5 1136.8,387.6 1139.7,387.4 1142.8,387.6 1145.5,387.6 1148.6,387.4 1151.4,387.6 1154.2,387.3 1157.1,387.1 1159.9,387.4 1162.7,387.2 1165.7,387.6 1168.5,387.0 1171.6,387.2 1174.4,387.3 1177.3,387.7 1180.1,387.5 1182.9,387.7 1186.0,387.4 1188.7,388.0 1191.5,387.5 1194.6,387.4 1197.5,387.6 1200.3,387.7 1203.4,388.0 1206.4,387.7 L1206.4,389.8 1203.4,389.8 1200.3,390.0 1197.5,389.9 1194.6,389.8 1191.5,389.9 1188.7,389.9 1186.0,389.7 1182.9,389.8 1180.1,389.9 1177.3,389.8 1174.4,390.0 1171.6,389.9 1168.5,389.8 1165.7,389.8 1162.7,389.8 1159.9,389.7 1157.1,389.8 1154.2,390.0 1151.4,389.9 1148.6,390.0 1145.5,390.0 1142.8,389.8 1139.7,390.0 1136.8,389.9 1134.0,389.8 1130.9,389.7 1128.1,389.7 1125.3,389.9 1122.5,390.0 1119.5,389.7 1116.6,390.0 1113.8,389.8 1111.0,389.7 1107.9,390.0 1105.1,390.0 1102.3,390.1 1099.4,389.9 1096.3,390.0 1093.6,390.0 1090.5,390.1 1087.7,390.1 1084.8,389.8 1082.0,389.9 1079.2,390.0 1076.4,390.1 1073.6,390.1 1070.8,389.8 1067.8,389.9 1065.0,390.1 1062.2,389.9 1059.1,389.8 1056.2,389.9 1053.1,390.0 1050.1,389.8 1047.6,389.8 1044.5,389.7 1041.6,390.0 1038.8,389.9 1036.0,389.9 1033.2,389.8 1030.1,389.8 1027.4,389.7 1024.3,389.8 1021.5,389.8 1018.3,389.9 1015.5,389.7 1012.7,389.9 1009.9,389.8 1007.1,389.7 1004.1,389.9 1001.3,390.0 998.5,390.0 995.6,389.7 992.5,390.0 990.0,389.7 986.9,389.9 983.9,389.9 980.9,389.9 978.2,389.8 975.4,389.8 972.3,389.8 969.5,389.8 966.7,390.1 963.7,389.8 960.9,390.1 957.9,389.9 955.2,389.8 952.1,390.1 949.5,390.0 946.5,389.8 943.7,390.1 940.8,389.8 938.0,390.0 935.2,389.9 932.4,390.1 929.3,389.8 926.3,389.9 923.5,389.9 920.7,390.1 917.9,389.7 915.0,389.8 912.2,390.0 909.1,390.1 906.3,390.0 903.3,389.7 900.5,390.0 897.6,389.7 894.8,390.0 892.0,389.8 889.2,389.8 886.4,389.9 883.3,389.8 880.6,389.9 877.5,389.9 874.6,390.0 871.5,389.8 868.7,389.7 865.9,389.9 862.9,389.7 859.9,389.9 857.1,389.9 854.1,389.8 851.3,390.0 848.5,390.0 846.0,390.1 842.9,389.9 839.7,390.0 836.9,390.0 833.9,389.8 831.4,390.1 828.3,390.1 825.2,390.0 822.4,389.9 819.7,389.8 816.9,389.9 813.9,389.8 811.1,389.8 808.4,390.2 805.3,390.1 802.5,390.1 799.4,390.1 796.7,389.8 793.7,389.8 790.9,389.8 788.2,390.1 785.1,389.8 782.3,389.8 779.2,389.8 776.4,390.0 773.5,389.9 770.7,390.1 767.7,389.8 764.9,389.8 762.1,389.8 759.5,389.8 756.5,390.0 753.3,390.0 750.5,390.0 747.7,389.9 744.9,389.7 742.1,390.0 739.1,390.1 736.1,390.0 733.3,389.7 730.3,390.0 727.5,389.8 724.4,390.0 721.6,390.0 718.9,389.8 716.1,389.8 713.1,389.9 710.3,389.7 707.3,389.8 704.2,389.8 701.7,389.9 698.6,389.8 695.9,389.9 692.9,389.8 689.9,389.9 687.1,389.8 684.3,390.0 681.2,390.0 678.4,389.8 675.5,390.0 672.7,389.9 669.9,389.8 667.1,389.9 664.4,390.1 661.3,390.0 658.5,390.1 655.4,389.8 652.5,390.1 649.7,389.7 646.9,389.9 643.9,390.0 641.1,389.9 638.3,389.8 635.2,389.9 632.4,389.9 629.7,390.0 626.9,389.8 623.9,389.7 621.1,389.8 618.1,389.8 615.0,389.9 612.2,389.9 609.4,389.9 606.5,390.0 603.7,390.0 600.9,389.9 597.9,389.7 595.1,389.9 592.0,389.7 589.2,389.7 586.4,390.1 583.5,389.8 580.7,389.8 577.9,389.7 574.9,390.0 572.1,389.9 568.9,389.9 566.1,390.0 562.9,389.8 559.8,389.8 557.0,389.9 554.2,389.9 551.7,390.0 548.6,390.0 545.9,389.7 543.1,389.9 540.3,390.1 537.5,389.8 534.7,390.1 531.9,390.1 528.9,390.0 525.9,389.9 522.9,390.1 520.1,389.8 517.3,390.0 514.5,389.8 511.7,389.7 508.5,389.9 505.4,389.9 502.6,390.0 499.9,389.9 497.1,389.8 494.3,390.1 491.2,390.0 488.4,389.9 485.5,389.8 482.4,389.7 479.7,389.8 477.1,390.0 474.1,390.0 471.3,390.0 468.1,389.7 465.3,390.0 462.5,389.9 459.4,389.8 456.7,390.0 453.9,389.8 450.8,389.8 447.9,389.9 444.8,389.9 442.0,390.0 439.2,389.9 436.4,390.1 433.7,390.1 430.6,389.8 427.8,390.0 424.9,390.1 421.8,389.8 419.0,389.9 416.0,390.0 413.4,389.9 410.4,390.0 407.6,390.1 404.8,390.1 401.6,390.0 398.8,389.9 396.0,389.9 393.2,389.7 390.0,389.9 387.0,390.1 384.2,389.8 382.4,390.1 379.0,389.9 376.2,390.1 372.9,390.0 370.1,389.8 367.3,390.0 364.0,389.9 361.7,389.7 358.4,390.0 355.6,389.7 352.8,389.8 350.0,389.8 347.3,389.7 344.5,390.0 341.7,389.7 338.3,389.8 335.5,389.8 332.8,389.7 329.6,389.9 326.6,389.8 323.8,389.9 321.0,390.1 318.3,389.8 315.3,390.0 312.1,389.7 309.6,389.8 306.2,389.7 303.8,390.0 301.0,390.0 298.2,390.0 294.9,389.9 292.1,389.7 289.3,389.9 286.5,390.0 283.7,389.7 280.9,389.9 278.1,390.1 275.3,389.8 272.6,390.0 269.8,389.8 267.0,390.1 263.6,389.8 260.9,390.0 258.1,390.1 254.7,389.8 251.9,389.8 249.1,390.1 246.4,389.8 243.0,389.8 239.7,390.0Z" fill="#8cc56c" fill-opacity="0.95"/>
<path d="M239.7,390.0 243.0,389.8 246.4,389.8 249.1,390.1 251.9,389.8 254.7,389.8 258.1,390.1 260.9,390.0 263.6,389.8 267.0,390.1 269.8,389.8 272.6,390.0 275.3,389.8 278.1,390.1 280.9,389.9 283.7,389.7 286.5,390.0 289.3,389.9 292.1,389.7 294.9,389.9 298.2,390.0 301.0,390.0 303.8,390.0 306.2,389.7 309.6,389.8 312.1,389.7 315.3,390.0 318.3,389.8 321.0,390.1 323.8,389.9 326.6,389.8 329.6,389.9 332.8,389.7 335.5,389.8 338.3,389.8 341.7,389.7 344.5,390.0 347.3,389.7 350.0,389.8 352.8,389.8 355.6,389.7 358.4,390.0 361.7,389.7 364.0,389.9 367.3,390.0 370.1,389.8 372.9,390.0 376.2,390.1 379.0,389.9 382.4,390.1 384.2,389.8 387.0,390.1 390.0,389.9 393.2,389.7 396.0,389.9 398.8,389.9 401.6,390.0 404.8,390.1 407.6,390.1 410.4,390.0 413.4,389.9 416.0,390.0 419.0,389.9 421.8,389.8 424.9,390.1 427.8,390.0 430.6,389.8 433.7,390.1 436.4,390.1 439.2,389.9 442.0,390.0 444.8,389.9 447.9,389.9 450.8,389.8 453.9,389.8 456.7,390.0 459.4,389.8 462.5,389.9 465.3,390.0 468.1,389.7 471.3,390.0 474.1,390.0 477.1,390.0 479.7,389.8 482.4,389.7 485.5,389.8 488.4,389.9 491.2,390.0 494.3,390.1 497.1,389.8 499.9,389.9 502.6,390.0 505.4,389.9 508.5,389.9 511.7,389.7 514.5,389.8 517.3,390.0 520.1,389.8 522.9,390.1 525.9,389.9 528.9,390.0 531.9,390.1 534.7,390.1 537.5,389.8 540.3,390.1 543.1,389.9 545.9,389.7 548.6,390.0 551.7,390.0 554.2,389.9 557.0,389.9 559.8,389.8 562.9,389.8 566.1,390.0 568.9,389.9 572.1,389.9 574.9,390.0 577.9,389.7 580.7,389.8 583.5,389.8 586.4,390.1 589.2,389.7 592.0,389.7 595.1,389.9 597.9,389.7 600.9,389.9 603.7,390.0 606.5,390.0 609.4,389.9 612.2,389.9 615.0,389.9 618.1,389.8 621.1,389.8 623.9,389.7 626.9,389.8 629.7,390.0 632.4,389.9 635.2,389.9 638.3,389.8 641.1,389.9 643.9,390.0 646.9,389.9 649.7,389.7 652.5,390.1 655.4,389.8 658.5,390.1 661.3,390.0 664.4,390.1 667.1,389.9 669.9,389.8 672.7,389.9 675.5,390.0 678.4,389.8 681.2,390.0 684.3,390.0 687.1,389.8 689.9,389.9 692.9,389.8 695.9,389.9 698.6,389.8 701.7,389.9 704.2,389.8 707.3,389.8 710.3,389.7 713.1,389.9 716.1,389.8 718.9,389.8 721.6,390.0 724.4,390.0 727.5,389.8 730.3,390.0 733.3,389.7 736.1,390.0 739.1,390.1 742.1,390.0 744.9,389.7 747.7,389.9 750.5,390.0 753.3,390.0 756.5,390.0 759.5,389.8 762.1,389.8 764.9,389.8 767.7,389.8 770.7,390.1 773.5,389.9 776.4,390.0 779.2,389.8 782.3,389.8 785.1,389.8 788.2,390.1 790.9,389.8 793.7,389.8 796.7,389.8 799.4,390.1 802.5,390.1 805.3,390.1 808.4,390.2 811.1,389.8 813.9,389.8 816.9,389.9 819.7,389.8 822.4,389.9 825.2,390.0 828.3,390.1 831.4,390.1 833.9,389.8 836.9,390.0 839.7,390.0 842.9,389.9 846.0,390.1 848.5,390.0 851.3,390.0 854.1,389.8 857.1,389.9 859.9,389.9 862.9,389.7 865.9,389.9 868.7,389.7 871.5,389.8 874.6,390.0 877.5,389.9 880.6,389.9 883.3,389.8 886.4,389.9 889.2,389.8 892.0,389.8 894.8,390.0 897.6,389.7 900.5,390.0 903.3,389.7 906.3,390.0 909.1,390.1 912.2,390.0 915.0,389.8 917.9,389.7 920.7,390.1 923.5,389.9 926.3,389.9 929.3,389.8 932.4,390.1 935.2,389.9 938.0,390.0 940.8,389.8 943.7,390.1 946.5,389.8 949.5,390.0 952.1,390.1 955.2,389.8 957.9,389.9 960.9,390.1 963.7,389.8 966.7,390.1 969.5,389.8 972.3,389.8 975.4,389.8 978.2,389.8 980.9,389.9 983.9,389.9 986.9,389.9 990.0,389.7 992.5,390.0 995.6,389.7 998.5,390.0 1001.3,390.0 1004.1,389.9 1007.1,389.7 1009.9,389.8 1012.7,389.9 1015.5,389.7 1018.3,389.9 1021.5,389.8 1024.3,389.8 1027.4,389.7 1030.1,389.8 1033.2,389.8 1036.0,389.9 1038.8,389.9 1041.6,390.0 1044.5,389.7 1047.6,389.8 1050.1,389.8 1053.1,390.0 1056.2,389.9 1059.1,389.8 1062.2,389.9 1065.0,390.1 1067.8,389.9 1070.8,389.8 1073.6,390.1 1076.4,390.1 1079.2,390.0 1082.0,389.9 1084.8,389.8 1087.7,390.1 1090.5,390.1 1093.6,390.0 1096.3,390.0 1099.4,389.9 1102.3,390.1 1105.1,390.0 1107.9,390.0 1111.0,389.7 1113.8,389.8 1116.6,390.0 1119.5,389.7 1122.5,390.0 1125.3,389.9 1128.1,389.7 1130.9,389.7 1134.0,389.8 1136.8,389.9 1139.7,390.0 1142.8,389.8 1145.5,390.0 1148.6,390.0 1151.4,389.9 1154.2,390.0 1157.1,389.8 1159.9,389.7 1162.7,389.8 1165.7,389.8 1168.5,389.8 1171.6,389.9 1174.4,390.0 1177.3,389.8 1180.1,389.9 1182.9,389.8 1186.0,389.7 1188.7,389.9 1191.5,389.9 1194.6,389.8 1197.5,389.9 1200.3,390.0 1203.4,389.8 1206.4,389.8 L1206.4,391.7 1203.4,391.9 1200.3,391.6 1197.5,391.6 1194.6,391.7 1191.5,391.8 1188.7,391.8 1186.0,391.9 1182.9,391.8 1180.1,391.6 1177.3,391.6 1174.4,391.4 1171.6,391.1 1168.5,390.9 1165.7,390.6 1162.7,390.4 1159.9,390.2 1157.1,390.4 1154.2,390.6 1151.4,390.8 1148.6,391.2 1145.5,391.5 1142.8,391.6 1139.7,391.6 1136.8,391.6 1134.0,391.8 1130.9,391.8 1128.1,391.7 1125.3,391.6 1122.5,391.6 1119.5,391.6 1116.6,391.8 1113.8,391.7 1111.0,391.7 1107.9,391.7 1105.1,391.8 1102.3,391.7 1099.4,391.9 1096.3,391.7 1093.6,391.8 1090.5,391.7 1087.7,391.8 1084.8,391.9 1082.0,391.8 1079.2,391.7 1076.4,391.9 1073.6,391.7 1070.8,391.8 1067.8,391.9 1065.0,391.7 1062.2,391.7 1059.1,391.9 1056.2,391.9 1053.1,391.7 1050.1,391.6 1047.6,391.8 1044.5,391.6 1041.6,391.7 1038.8,391.6 1036.0,391.7 1033.2,391.8 1030.1,391.6 1027.4,391.6 1024.3,391.6 1021.5,391.6 1018.3,391.8 1015.5,391.8 1012.7,391.6 1009.9,391.8 1007.1,391.6 1004.1,391.8 1001.3,391.8 998.5,391.6 995.6,391.8 992.5,391.6 990.0,391.8 986.9,391.7 983.9,391.9 980.9,391.9 978.2,391.8 975.4,391.8 972.3,391.7 969.5,391.9 966.7,391.8 963.7,391.7 960.9,391.6 957.9,391.6 955.2,391.7 952.1,391.8 949.5,391.9 946.5,391.8 943.7,391.6 940.8,391.8 938.0,391.7 935.2,391.9 932.4,391.9 929.3,391.7 926.3,391.9 923.5,391.6 920.7,391.7 917.9,391.7 915.0,391.8 912.2,391.7 909.1,391.8 906.3,391.8 903.3,391.7 900.5,391.6 897.6,391.6 894.8,391.7 892.0,391.7 889.2,391.6 886.4,391.6 883.3,391.8 880.6,391.8 877.5,391.8 874.6,391.6 871.5,391.7 868.7,391.7 865.9,391.8 862.9,391.7 859.9,391.7 857.1,391.7 854.1,391.7 851.3,391.7 848.5,391.7 846.0,391.6 842.9,391.6 839.7,391.7 836.9,391.7 833.9,391.6 831.4,391.8 828.3,391.9 825.2,391.8 822.4,391.9 819.7,391.7 816.9,391.6 813.9,391.7 811.1,391.9 808.4,391.7 805.3,391.7 802.5,391.8 799.4,391.8 796.7,391.8 793.7,391.8 790.9,391.7 788.2,391.7 785.1,391.6 782.3,391.8 779.2,391.8 776.4,391.7 773.5,391.8 770.7,391.6 767.7,391.8 764.9,391.6 762.1,391.7 759.5,391.7 756.5,391.7 753.3,391.8 750.5,391.6 747.7,391.7 744.9,391.7 742.1,391.7 739.1,391.6 736.1,391.8 733.3,391.7 730.3,391.6 727.5,391.8 724.4,391.6 721.6,391.7 718.9,391.7 716.1,391.6 713.1,391.8 710.3,391.6 707.3,391.7 704.2,391.7 701.7,391.9 698.6,391.7 695.9,391.7 692.9,391.9 689.9,391.6 687.1,391.8 684.3,391.8 681.2,391.7 678.4,391.7 675.5,391.7 672.7,391.8 669.9,391.7 667.1,391.9 664.4,391.7 661.3,391.7 658.5,391.8 655.4,391.8 652.5,391.9 649.7,391.8 646.9,391.9 643.9,391.8 641.1,391.8 638.3,391.8 635.2,391.8 632.4,391.7 629.7,391.6 626.9,391.7 623.9,391.6 621.1,391.7 618.1,391.6 615.0,391.8 612.2,391.5 609.4,391.6 606.5,391.6 603.7,391.7 600.9,391.6 597.9,391.7 595.1,391.6 592.0,391.8 589.2,391.6 586.4,391.6 583.5,391.8 580.7,391.8 577.9,391.6 574.9,391.8 572.1,391.8 568.9,391.8 566.1,391.8 562.9,391.7 559.8,391.6 557.0,391.9 554.2,391.9 551.7,391.7 548.6,391.6 545.9,391.8 543.1,391.7 540.3,391.6 537.5,391.7 534.7,391.9 531.9,391.7 528.9,391.6 525.9,391.8 522.9,391.7 520.1,391.7 517.3,391.8 514.5,391.8 511.7,391.8 508.5,391.8 505.4,391.8 502.6,391.7 499.9,391.9 497.1,391.8 494.3,391.7 491.2,391.8 488.4,391.8 485.5,391.8 482.4,391.6 479.7,391.8 477.1,391.6 474.1,391.8 471.3,391.7 468.1,391.8 465.3,391.7 462.5,391.6 459.4,391.6 456.7,391.7 453.9,391.8 450.8,391.6 447.9,391.8 444.8,391.7 442.0,391.7 439.2,391.7 436.4,391.6 433.7,391.6 430.6,391.8 427.8,391.8 424.9,391.8 421.8,391.7 419.0,391.8 416.0,391.7 413.4,391.6 410.4,391.6 407.6,391.8 404.8,391.8 401.6,391.8 398.8,391.7 396.0,391.8 393.2,391.8 390.0,391.9 387.0,391.8 384.2,391.8 382.4,391.9 379.0,391.8 376.2,391.6 372.9,391.9 370.1,391.7 367.3,391.8 364.0,391.7 361.7,391.8 358.4,391.6 355.6,391.7 352.8,391.6 350.0,391.6 347.3,391.7 344.5,391.7 341.7,391.6 338.3,391.7 335.5,391.7 332.8,391.8 329.6,391.7 326.6,391.6 323.8,391.6 321.0,391.8 318.3,391.7 315.3,391.9 312.1,391.6 309.6,391.7 306.2,391.7 303.8,391.6 301.0,391.7 298.2,391.8 294.9,391.6 292.1,391.5 289.3,391.7 286.5,391.7 283.7,391.7 280.9,391.8 278.1,391.8 275.3,391.7 272.6,391.7 269.8,391.7 267.0,391.8 263.6,391.9 260.9,391.7 258.1,391.8 254.7,391.8 251.9,391.7 249.1,391.7 246.4,391.7 243.0,391.7 239.7,391.7Z" fill="#b9553a" fill-opacity="0.85"/>
<path d="M239.7,391.7 243.0,391.7 246.4,391.7 249.1,391.7 251.9,391.7 254.7,391.8 258.1,391.8 260.9,391.7 263.6,391.9 267.0,391.8 269.8,391.7 272.6,391.7 275.3,391.7 278.1,391.8 280.9,391.8 283.7,391.7 286.5,391.7 289.3,391.7 292.1,391.5 294.9,391.6 298.2,391.8 301.0,391.7 303.8,391.6 306.2,391.7 309.6,391.7 312.1,391.6 315.3,391.9 318.3,391.7 321.0,391.8 323.8,391.6 326.6,391.6 329.6,391.7 332.8,391.8 335.5,391.7 338.3,391.7 341.7,391.6 344.5,391.7 347.3,391.7 350.0,391.6 352.8,391.6 355.6,391.7 358.4,391.6 361.7,391.8 364.0,391.7 367.3,391.8 370.1,391.7 372.9,391.9 376.2,391.6 379.0,391.8 382.4,391.9 384.2,391.8 387.0,391.8 390.0,391.9 393.2,391.8 396.0,391.8 398.8,391.7 401.6,391.8 404.8,391.8 407.6,391.8 410.4,391.6 413.4,391.6 416.0,391.7 419.0,391.8 421.8,391.7 424.9,391.8 427.8,391.8 430.6,391.8 433.7,391.6 436.4,391.6 439.2,391.7 442.0,391.7 444.8,391.7 447.9,391.8 450.8,391.6 453.9,391.8 456.7,391.7 459.4,391.6 462.5,391.6 465.3,391.7 468.1,391.8 471.3,391.7 474.1,391.8 477.1,391.6 479.7,391.8 482.4,391.6 485.5,391.8 488.4,391.8 491.2,391.8 494.3,391.7 497.1,391.8 499.9,391.9 502.6,391.7 505.4,391.8 508.5,391.8 511.7,391.8 514.5,391.8 517.3,391.8 520.1,391.7 522.9,391.7 525.9,391.8 528.9,391.6 531.9,391.7 534.7,391.9 537.5,391.7 540.3,391.6 543.1,391.7 545.9,391.8 548.6,391.6 551.7,391.7 554.2,391.9 557.0,391.9 559.8,391.6 562.9,391.7 566.1,391.8 568.9,391.8 572.1,391.8 574.9,391.8 577.9,391.6 580.7,391.8 583.5,391.8 586.4,391.6 589.2,391.6 592.0,391.8 595.1,391.6 597.9,391.7 600.9,391.6 603.7,391.7 606.5,391.6 609.4,391.6 612.2,391.5 615.0,391.8 618.1,391.6 621.1,391.7 623.9,391.6 626.9,391.7 629.7,391.6 632.4,391.7 635.2,391.8 638.3,391.8 641.1,391.8 643.9,391.8 646.9,391.9 649.7,391.8 652.5,391.9 655.4,391.8 658.5,391.8 661.3,391.7 664.4,391.7 667.1,391.9 669.9,391.7 672.7,391.8 675.5,391.7 678.4,391.7 681.2,391.7 684.3,391.8 687.1,391.8 689.9,391.6 692.9,391.9 695.9,391.7 698.6,391.7 701.7,391.9 704.2,391.7 707.3,391.7 710.3,391.6 713.1,391.8 716.1,391.6 718.9,391.7 721.6,391.7 724.4,391.6 727.5,391.8 730.3,391.6 733.3,391.7 736.1,391.8 739.1,391.6 742.1,391.7 744.9,391.7 747.7,391.7 750.5,391.6 753.3,391.8 756.5,391.7 759.5,391.7 762.1,391.7 764.9,391.6 767.7,391.8 770.7,391.6 773.5,391.8 776.4,391.7 779.2,391.8 782.3,391.8 785.1,391.6 788.2,391.7 790.9,391.7 793.7,391.8 796.7,391.8 799.4,391.8 802.5,391.8 805.3,391.7 808.4,391.7 811.1,391.9 813.9,391.7 816.9,391.6 819.7,391.7 822.4,391.9 825.2,391.8 828.3,391.9 831.4,391.8 833.9,391.6 836.9,391.7 839.7,391.7 842.9,391.6 846.0,391.6 848.5,391.7 851.3,391.7 854.1,391.7 857.1,391.7 859.9,391.7 862.9,391.7 865.9,391.8 868.7,391.7 871.5,391.7 874.6,391.6 877.5,391.8 880.6,391.8 883.3,391.8 886.4,391.6 889.2,391.6 892.0,391.7 894.8,391.7 897.6,391.6 900.5,391.6 903.3,391.7 906.3,391.8 909.1,391.8 912.2,391.7 915.0,391.8 917.9,391.7 920.7,391.7 923.5,391.6 926.3,391.9 929.3,391.7 932.4,391.9 935.2,391.9 938.0,391.7 940.8,391.8 943.7,391.6 946.5,391.8 949.5,391.9 952.1,391.8 955.2,391.7 957.9,391.6 960.9,391.6 963.7,391.7 966.7,391.8 969.5,391.9 972.3,391.7 975.4,391.8 978.2,391.8 980.9,391.9 983.9,391.9 986.9,391.7 990.0,391.8 992.5,391.6 995.6,391.8 998.5,391.6 1001.3,391.8 1004.1,391.8 1007.1,391.6 1009.9,391.8 1012.7,391.6 1015.5,391.8 1018.3,391.8 1021.5,391.6 1024.3,391.6 1027.4,391.6 1030.1,391.6 1033.2,391.8 1036.0,391.7 1038.8,391.6 1041.6,391.7 1044.5,391.6 1047.6,391.8 1050.1,391.6 1053.1,391.7 1056.2,391.9 1059.1,391.9 1062.2,391.7 1065.0,391.7 1067.8,391.9 1070.8,391.8 1073.6,391.7 1076.4,391.9 1079.2,391.7 1082.0,391.8 1084.8,391.9 1087.7,391.8 1090.5,391.7 1093.6,391.8 1096.3,391.7 1099.4,391.9 1102.3,391.7 1105.1,391.8 1107.9,391.7 1111.0,391.7 1113.8,391.7 1116.6,391.8 1119.5,391.6 1122.5,391.6 1125.3,391.6 1128.1,391.7 1130.9,391.8 1134.0,391.8 1136.8,391.6 1139.7,391.6 1142.8,391.6 1145.5,391.5 1148.6,391.2 1151.4,390.8 1154.2,390.6 1157.1,390.4 1159.9,390.2 1162.7,390.4 1165.7,390.6 1168.5,390.9 1171.6,391.1 1174.4,391.4 1177.3,391.6 1180.1,391.6 1182.9,391.8 1186.0,391.9 1188.7,391.8 1191.5,391.8 1194.6,391.7 1197.5,391.6 1200.3,391.6 1203.4,391.9 1206.4,391.7 L1206.4,393.5 L239.7,393.5Z" fill="#c9703a" fill-opacity="0.85"/>
<path d="M239.7,365.2 243.0,331.9 246.4,340.1 249.1,346.8 251.9,350.1 254.7,354.6 258.1,354.0 260.9,355.2 263.6,356.3 267.0,352.9 269.8,351.2 272.6,351.0 275.3,352.4 278.1,354.6 280.9,349.0 283.7,344.6 286.5,331.2 289.3,326.7 292.1,336.6 294.9,309.6 298.2,304.6 301.0,297.4 303.8,198.9 306.2,260.0 309.6,256.5 312.1,266.7 315.3,265.6 318.3,281.8 321.0,278.0 323.8,274.5 326.6,276.2 329.6,267.3 332.8,271.2 335.5,266.7 338.3,260.0 341.7,269.0 344.5,281.8 347.3,301.3 350.0,292.0 352.8,282.9 355.6,301.3 358.4,287.9 361.7,305.7 364.0,295.2 367.3,289.6 370.1,296.8 372.9,297.9 376.2,304.6 379.0,311.3 382.4,315.2 384.2,337.6 387.0,350.0 390.0,343.1 393.2,348.0 396.0,343.8 398.8,351.0 401.6,347.3 404.8,348.7 407.6,352.0 410.4,343.4 413.4,346.6 416.0,352.0 419.0,340.6 421.8,348.0 424.9,331.3 427.8,327.8 430.6,309.7 433.7,309.0 436.4,308.7 439.2,303.4 442.0,276.0 444.8,301.3 447.9,288.8 450.8,277.4 453.9,292.3 456.7,309.0 459.4,299.2 462.5,298.8 465.3,290.9 468.1,297.1 471.3,288.8 474.1,280.4 477.1,274.8 479.7,273.2 482.4,290.9 485.5,295.7 488.4,296.9 491.2,316.0 494.3,310.4 497.1,305.5 499.9,300.2 502.6,313.2 505.4,308.3 508.5,293.0 511.7,300.6 514.5,306.2 517.3,313.2 520.1,319.4 522.9,327.1 525.9,334.1 528.9,343.1 531.9,348.7 534.7,351.5 537.5,353.0 540.3,343.4 543.1,343.8 545.9,348.0 548.6,340.1 551.7,347.3 554.2,350.8 557.0,345.9 559.8,341.7 562.9,332.0 566.1,331.3 568.9,327.1 572.1,320.8 574.9,299.0 577.9,299.9 580.7,302.7 583.5,288.8 586.4,293.7 589.2,292.7 592.0,257.0 595.1,279.7 597.9,264.4 600.9,294.6 603.7,288.8 606.5,283.5 609.4,280.1 612.2,283.5 615.0,266.8 618.1,279.7 621.1,288.5 623.9,279.3 626.9,279.7 629.7,299.9 632.4,297.8 635.2,296.9 638.3,293.2 641.1,301.3 643.9,313.2 646.9,311.1 649.7,296.0 652.5,308.3 655.4,317.4 658.5,323.6 661.3,332.7 664.4,336.2 667.1,350.0 669.9,355.7 672.7,356.0 675.5,348.0 678.4,341.7 681.2,347.3 684.3,350.1 687.1,351.5 689.9,348.7 692.9,346.6 695.9,344.8 698.6,347.6 701.7,337.6 704.2,323.6 707.3,317.4 710.3,311.1 713.1,291.6 716.1,302.0 718.9,294.4 721.6,288.1 724.4,281.1 727.5,286.0 730.3,291.6 733.3,297.1 736.1,297.8 739.1,293.0 742.1,295.1 744.9,291.6 747.7,287.4 750.5,278.7 753.3,285.3 756.5,283.5 759.5,296.4 762.1,290.1 764.9,297.4 767.7,304.4 770.7,307.8 773.5,313.0 776.4,312.7 779.2,306.4 782.3,307.4 785.1,319.0 788.2,307.4 790.9,311.3 793.7,316.9 796.7,321.8 799.4,340.6 802.5,344.8 805.3,348.3 808.4,351.0 811.1,358.7 813.9,355.9 816.9,353.1 819.7,349.2 822.4,353.8 825.2,351.5 828.3,357.3 831.4,358.0 833.9,350.3 836.9,344.8 839.7,335.7 842.9,330.1 846.0,337.5 848.5,320.4 851.3,310.6 854.1,302.3 857.1,300.2 859.9,294.9 862.9,288.3 865.9,298.8 868.7,290.7 871.5,299.1 874.6,290.7 877.5,287.4 880.6,289.0 883.3,291.8 886.4,293.9 889.2,298.8 892.0,302.3 894.8,291.8 897.6,296.7 900.5,295.3 903.3,286.9 906.3,289.7 909.1,304.4 912.2,300.9 915.0,302.3 917.9,287.4 920.7,306.4 923.5,297.1 926.3,303.0 929.3,301.8 932.4,325.3 935.2,328.7 938.0,326.4 940.8,335.7 943.7,345.9 946.5,339.9 949.5,351.7 952.1,353.8 955.2,344.8 957.9,342.0 960.9,346.9 963.7,342.7 966.7,339.9 969.5,345.5 972.3,344.5 975.4,345.5 978.2,333.9 980.9,330.8 983.9,323.9 986.9,311.3 990.0,301.8 992.5,283.7 995.6,277.9 998.5,278.6 1001.3,283.7 1004.1,273.7 1007.1,263.9 1009.9,282.1 1012.7,279.5 1015.5,284.1 1018.3,282.8 1021.5,271.6 1024.3,283.4 1027.4,291.5 1030.1,281.4 1033.2,281.4 1036.0,285.5 1038.8,287.6 1041.6,292.5 1044.5,279.0 1047.6,283.4 1050.1,286.5 1053.1,282.8 1056.2,293.5 1059.1,284.6 1062.2,288.3 1065.0,308.5 1067.8,299.9 1070.8,310.2 1073.6,328.7 1076.4,332.2 1079.2,325.3 1082.0,349.0 1084.8,352.9 1087.7,349.7 1090.5,354.8 1093.6,351.5 1096.3,350.1 1099.4,348.7 1102.3,346.2 1105.1,353.4 1107.9,346.2 1111.0,342.0 1113.8,342.8 1116.6,330.5 1119.5,334.2 1122.5,326.3 1125.3,312.4 1128.1,297.4 1130.9,296.3 1134.0,295.2 1136.8,296.0 1139.7,291.4 1142.8,275.3 1145.5,289.2 1148.6,301.2 1151.4,282.4 1154.2,268.2 1157.1,246.4 1159.9,275.4 1162.7,273.7 1165.7,279.9 1168.5,267.1 1171.6,283.1 1174.4,279.6 1177.3,292.8 1180.1,291.9 1182.9,304.7 1186.0,299.8 1188.7,303.3 1191.5,309.6 1194.6,297.4 1197.5,299.8 1200.3,312.4 1203.4,306.4 1206.4,311.9" fill="none" stroke="#6eb038" stroke-opacity="0.8" stroke-width="1.25" stroke-linejoin="round" marker-start="url(#m-green)" marker-mid="url(#m-green)" marker-end="url(#m-green)"/>
<path d="M239.7,387.7 243.0,380.7 246.4,383.9 249.1,382.6 251.9,383.3 254.7,382.8 258.1,381.1 260.9,381.1 263.6,379.4 267.0,379.7 269.8,378.7 272.6,378.4 275.3,378.3 278.1,378.3 280.9,376.3 283.7,375.8 286.5,374.9 289.3,362.1 292.1,351.3 294.9,367.8 298.2,371.3 301.0,370.1 303.8,370.6 306.2,371.1 309.6,372.9 312.1,373.5 315.3,374.7 318.3,376.3 321.0,375.4 323.8,374.5 326.6,373.0 329.6,371.0 332.8,369.7 335.5,367.8 338.3,368.1 341.7,369.4 344.5,372.3 347.3,371.1 350.0,368.5 352.8,361.5 355.6,370.7 358.4,371.5 361.7,375.7 364.0,376.3 367.3,376.4 370.1,374.8 372.9,379.1 376.2,380.8 379.0,381.4 382.4,382.1 384.2,384.2 387.0,383.8 390.0,382.2 393.2,380.2 396.0,379.6 398.8,380.5 401.6,378.9 404.8,379.3 407.6,377.5 410.4,372.7 413.4,377.1 416.0,379.5 419.0,379.3 421.8,378.4 424.9,376.5 427.8,373.7 430.6,372.1 433.7,372.0 436.4,370.9 439.2,370.9 442.0,368.9 444.8,369.1 447.9,368.2 450.8,370.2 453.9,371.4 456.7,371.8 459.4,371.0 462.5,370.4 465.3,369.6 468.1,370.8 471.3,370.7 474.1,370.9 477.1,370.9 479.7,372.3 482.4,371.3 485.5,371.7 488.4,372.7 491.2,375.2 494.3,373.6 497.1,374.0 499.9,373.8 502.6,375.3 505.4,376.8 508.5,372.2 511.7,371.7 514.5,379.0 517.3,378.6 520.1,379.4 522.9,381.8 525.9,381.3 528.9,382.2 531.9,382.0 534.7,380.9 537.5,380.2 540.3,379.1 543.1,376.5 545.9,373.9 548.6,372.7 551.7,374.2 554.2,376.4 557.0,377.2 559.8,375.5 562.9,373.9 566.1,373.0 568.9,372.1 572.1,370.0 574.9,371.8 577.9,371.8 580.7,372.1 583.5,371.6 586.4,370.2 589.2,368.9 592.0,367.2 595.1,369.1 597.9,369.0 600.9,370.0 603.7,369.7 606.5,369.2 609.4,366.4 612.2,357.5 615.0,365.3 618.1,369.9 621.1,370.4 623.9,371.5 626.9,371.6 629.7,373.7 632.4,373.9 635.2,373.7 638.3,374.6 641.1,376.7 643.9,378.7 646.9,378.3 649.7,378.4 652.5,380.8 655.4,380.7 658.5,380.6 661.3,380.1 664.4,381.4 667.1,383.0 669.9,383.4 672.7,383.5 675.5,379.0 678.4,378.8 681.2,380.9 684.3,380.6 687.1,379.7 689.9,379.5 692.9,377.7 695.9,378.2 698.6,380.6 701.7,378.3 704.2,376.0 707.3,373.2 710.3,371.6 713.1,369.6 716.1,371.7 718.9,372.3 721.6,373.8 724.4,371.7 727.5,369.9 730.3,369.9 733.3,371.2 736.1,371.9 739.1,371.3 742.1,370.2 744.9,369.3 747.7,369.0 750.5,370.1 753.3,370.5 756.5,371.1 759.5,372.3 762.1,371.2 764.9,372.8 767.7,375.2 770.7,377.3 773.5,376.6 776.4,377.7 779.2,378.2 782.3,381.2 785.1,380.2 788.2,378.8 790.9,381.7 793.7,380.5 796.7,381.1 799.4,382.7 802.5,384.2 805.3,385.0 808.4,384.5 811.1,384.2 813.9,383.0 816.9,380.0 819.7,380.5 822.4,380.6 825.2,379.9 828.3,379.4 831.4,378.3 833.9,376.8 836.9,376.7 839.7,374.8 842.9,376.0 846.0,377.2 848.5,375.5 851.3,374.7 854.1,374.9 857.1,373.8 859.9,372.4 862.9,371.9 865.9,371.0 868.7,370.5 871.5,372.4 874.6,371.0 877.5,372.0 880.6,372.0 883.3,371.2 886.4,371.0 889.2,372.5 892.0,371.2 894.8,370.3 897.6,374.3 900.5,372.4 903.3,369.2 906.3,372.9 909.1,374.5 912.2,374.1 915.0,372.9 917.9,371.7 920.7,374.6 923.5,372.5 926.3,378.0 929.3,379.9 932.4,380.6 935.2,381.2 938.0,377.9 940.8,383.6 943.7,382.9 946.5,382.1 949.5,381.2 952.1,380.8 955.2,378.8 957.9,378.8 960.9,376.9 963.7,376.0 966.7,375.9 969.5,375.1 972.3,374.7 975.4,372.4 978.2,371.1 980.9,373.4 983.9,372.3 986.9,371.8 990.0,371.2 992.5,370.0 995.6,368.7 998.5,368.6 1001.3,368.3 1004.1,368.3 1007.1,366.7 1009.9,367.3 1012.7,366.6 1015.5,366.4 1018.3,367.2 1021.5,366.7 1024.3,367.6 1027.4,368.9 1030.1,369.9 1033.2,370.0 1036.0,370.7 1038.8,370.5 1041.6,370.5 1044.5,370.8 1047.6,370.9 1050.1,372.8 1053.1,374.7 1056.2,375.0 1059.1,372.2 1062.2,377.2 1065.0,379.9 1067.8,377.5 1070.8,379.5 1073.6,381.6 1076.4,381.9 1079.2,380.6 1082.0,381.9 1084.8,383.6 1087.7,382.2 1090.5,381.7 1093.6,380.6 1096.3,380.3 1099.4,379.0 1102.3,378.8 1105.1,377.0 1107.9,377.5 1111.0,376.2 1113.8,373.7 1116.6,373.5 1119.5,372.8 1122.5,370.7 1125.3,371.2 1128.1,369.8 1130.9,369.8 1134.0,370.6 1136.8,370.2 1139.7,368.9 1142.8,369.3 1145.5,369.3 1148.6,368.9 1151.4,368.2 1154.2,365.8 1157.1,364.0 1159.9,364.6 1162.7,367.3 1165.7,368.7 1168.5,364.9 1171.6,368.9 1174.4,367.6 1177.3,370.3 1180.1,372.2 1182.9,374.9 1186.0,375.3 1188.7,376.3 1191.5,375.4 1194.6,376.4 1197.5,376.6 1200.3,378.5 1203.4,378.5 1206.4,380.6" fill="none" stroke="#52a5ac" stroke-opacity="0.95" stroke-width="1.8" stroke-linejoin="round"/>
<path d="M239.7,388.5 243.0,386.1 246.4,386.4 249.1,386.7 251.9,386.8 254.7,386.2 258.1,386.3 260.9,386.2 263.6,386.5 267.0,386.6 269.8,386.0 272.6,386.2 275.3,386.4 278.1,385.8 280.9,385.8 283.7,385.7 286.5,386.1 289.3,377.7 292.1,371.0 294.9,383.4 298.2,385.5 301.0,385.5 303.8,385.4 306.2,385.2 309.6,385.8 312.1,385.9 315.3,385.8 318.3,386.1 321.0,386.1 323.8,386.0 326.6,385.9 329.6,385.6 332.8,385.4 335.5,385.3 338.3,385.0 341.7,385.4 344.5,385.6 347.3,385.7 350.0,385.3 352.8,384.9 355.6,385.6 358.4,385.8 361.7,385.7 364.0,385.9 367.3,386.2 370.1,385.8 372.9,385.9 376.2,386.6 379.0,386.2 382.4,386.5 384.2,386.7 387.0,386.4 390.0,386.6 393.2,386.3 396.0,386.1 398.8,386.0 401.6,386.3 404.8,386.0 407.6,385.9 410.4,385.5 413.4,386.1 416.0,386.3 419.0,386.5 421.8,386.4 424.9,386.3 427.8,385.5 430.6,385.7 433.7,385.8 436.4,385.7 439.2,385.2 442.0,385.0 444.8,385.1 447.9,385.3 450.8,385.5 453.9,385.6 456.7,385.5 459.4,385.7 462.5,385.4 465.3,385.5 468.1,385.1 471.3,385.1 474.1,385.4 477.1,385.6 479.7,385.2 482.4,385.6 485.5,385.6 488.4,385.9 491.2,385.9 494.3,385.7 497.1,385.7 499.9,385.9 502.6,385.8 505.4,385.9 508.5,383.3 511.7,382.2 514.5,384.5 517.3,386.4 520.1,386.6 522.9,386.6 525.9,386.6 528.9,386.4 531.9,386.4 534.7,386.2 537.5,386.2 540.3,386.0 543.1,385.7 545.9,385.8 548.6,385.7 551.7,385.4 554.2,386.2 557.0,385.9 559.8,385.8 562.9,386.0 566.1,385.4 568.9,384.5 572.1,383.4 574.9,385.3 577.9,385.3 580.7,385.8 583.5,385.5 586.4,385.4 589.2,385.0 592.0,384.9 595.1,385.0 597.9,385.2 600.9,385.1 603.7,385.2 606.5,385.1 609.4,382.1 612.2,368.5 615.0,382.1 618.1,385.4 621.1,385.7 623.9,385.3 626.9,385.5 629.7,385.6 632.4,385.6 635.2,385.6 638.3,385.8 641.1,386.3 643.9,385.9 646.9,385.9 649.7,386.1 652.5,386.3 655.4,386.2 658.5,386.6 661.3,386.1 664.4,386.6 667.1,386.9 669.9,386.8 672.7,386.5 675.5,386.4 678.4,386.0 681.2,386.0 684.3,386.3 687.1,386.3 689.9,386.3 692.9,385.9 695.9,385.9 698.6,386.3 701.7,386.0 704.2,386.2 707.3,385.9 710.3,385.7 713.1,385.1 716.1,385.6 718.9,385.5 721.6,386.0 724.4,385.8 727.5,385.5 730.3,385.2 733.3,385.3 736.1,385.4 739.1,385.6 742.1,385.4 744.9,385.3 747.7,385.3 750.5,385.6 753.3,385.1 756.5,385.7 759.5,385.2 762.1,385.2 764.9,385.9 767.7,385.9 770.7,385.8 773.5,385.6 776.4,386.1 779.2,386.3 782.3,386.6 785.1,386.0 788.2,386.4 790.9,386.4 793.7,386.6 796.7,386.4 799.4,386.2 802.5,386.9 805.3,386.5 808.4,386.7 811.1,386.4 813.9,386.4 816.9,386.5 819.7,386.1 822.4,386.3 825.2,386.6 828.3,386.6 831.4,386.1 833.9,386.0 836.9,386.1 839.7,386.0 842.9,386.0 846.0,386.1 848.5,385.6 851.3,386.1 854.1,385.6 857.1,385.5 859.9,385.8 862.9,385.2 865.9,385.3 868.7,385.1 871.5,385.7 874.6,385.5 877.5,385.6 880.6,385.2 883.3,385.4 886.4,385.5 889.2,385.6 892.0,385.6 894.8,385.7 897.6,386.0 900.5,385.3 903.3,385.4 906.3,385.3 909.1,385.9 912.2,385.9 915.0,385.6 917.9,385.7 920.7,385.9 923.5,385.3 926.3,385.8 929.3,386.1 932.4,386.2 935.2,386.1 938.0,385.8 940.8,386.6 943.7,386.4 946.5,386.8 949.5,386.2 952.1,386.4 955.2,386.0 957.9,386.1 960.9,386.1 963.7,386.2 966.7,385.6 969.5,386.1 972.3,385.8 975.4,385.7 978.2,385.6 980.9,385.5 983.9,385.2 986.9,385.7 990.0,385.3 992.5,385.5 995.6,385.2 998.5,385.3 1001.3,385.4 1004.1,385.4 1007.1,385.2 1009.9,384.8 1012.7,385.0 1015.5,385.2 1018.3,384.8 1021.5,384.7 1024.3,385.2 1027.4,385.5 1030.1,385.6 1033.2,385.6 1036.0,385.5 1038.8,385.7 1041.6,385.6 1044.5,385.6 1047.6,385.4 1050.1,385.3 1053.1,385.6 1056.2,384.3 1059.1,381.2 1062.2,384.8 1065.0,386.4 1067.8,386.2 1070.8,386.5 1073.6,386.6 1076.4,386.1 1079.2,386.6 1082.0,386.5 1084.8,386.5 1087.7,386.2 1090.5,386.6 1093.6,386.5 1096.3,386.5 1099.4,386.3 1102.3,386.2 1105.1,385.7 1107.9,385.8 1111.0,385.7 1113.8,386.0 1116.6,386.0 1119.5,385.5 1122.5,385.1 1125.3,385.5 1128.1,385.3 1130.9,385.7 1134.0,385.5 1136.8,385.1 1139.7,385.0 1142.8,385.0 1145.5,385.0 1148.6,385.4 1151.4,385.3 1154.2,382.9 1157.1,380.3 1159.9,382.5 1162.7,384.7 1165.7,385.1 1168.5,384.8 1171.6,385.1 1174.4,385.2 1177.3,385.3 1180.1,385.9 1182.9,385.6 1186.0,386.0 1188.7,385.6 1191.5,385.8 1194.6,386.1 1197.5,386.2 1200.3,386.3 1203.4,386.0 1206.4,386.2" fill="none" stroke="#7cb94f" stroke-opacity="0.9" stroke-width="0.9" marker-start="url(#m-olive)" marker-mid="url(#m-olive)" marker-end="url(#m-olive)"/>
<path d="M239.7,389.1 243.0,388.2 246.4,388.1 249.1,388.0 251.9,388.1 254.7,388.2 258.1,387.9 260.9,388.3 263.6,388.0 267.0,387.9 269.8,387.6 272.6,387.8 275.3,387.6 278.1,387.9 280.9,387.9 283.7,387.9 286.5,387.4 289.3,382.8 292.1,378.5 294.9,386.7 298.2,387.5 301.0,387.3 303.8,387.5 306.2,387.6 309.6,387.5 312.1,387.3 315.3,387.8 318.3,388.0 321.0,387.8 323.8,387.7 326.6,387.5 329.6,387.7 332.8,387.2 335.5,387.2 338.3,387.3 341.7,387.6 344.5,387.3 347.3,387.6 350.0,387.2 352.8,387.2 355.6,387.6 358.4,387.3 361.7,387.8 364.0,387.5 367.3,387.7 370.1,387.9 372.9,388.0 376.2,388.0 379.0,387.9 382.4,387.8 384.2,388.3 387.0,388.2 390.0,388.2 393.2,387.6 396.0,388.1 398.8,388.2 401.6,388.1 404.8,387.9 407.6,387.6 410.4,387.3 413.4,387.6 416.0,387.6 419.0,387.6 421.8,387.9 424.9,387.9 427.8,387.3 430.6,387.4 433.7,387.8 436.4,387.4 439.2,387.5 442.0,387.4 444.8,387.5 447.9,387.5 450.8,387.7 453.9,387.6 456.7,387.6 459.4,387.2 462.5,387.7 465.3,387.1 468.1,387.6 471.3,387.5 474.1,387.3 477.1,387.3 479.7,387.6 482.4,387.8 485.5,387.5 488.4,387.6 491.2,387.4 494.3,387.8 497.1,387.7 499.9,387.4 502.6,388.0 505.4,387.8 508.5,387.3 511.7,387.3 514.5,388.1 517.3,388.1 520.1,388.2 522.9,387.8 525.9,388.1 528.9,387.9 531.9,387.8 534.7,388.1 537.5,388.1 540.3,387.6 543.1,387.7 545.9,387.8 548.6,387.4 551.7,387.7 554.2,387.9 557.0,388.1 559.8,387.5 562.9,387.4 566.1,387.5 568.9,387.3 572.1,387.7 574.9,387.7 577.9,387.5 580.7,387.3 583.5,387.2 586.4,387.5 589.2,387.5 592.0,387.3 595.1,387.4 597.9,387.1 600.9,387.6 603.7,387.2 606.5,387.2 609.4,385.1 612.2,376.6 615.0,385.2 618.1,387.5 621.1,387.6 623.9,387.6 626.9,387.3 629.7,387.9 632.4,387.8 635.2,387.5 638.3,387.8 641.1,388.0 643.9,388.1 646.9,387.8 649.7,387.9 652.5,387.7 655.4,387.7 658.5,387.7 661.3,388.1 664.4,388.2 667.1,388.3 669.9,388.1 672.7,388.0 675.5,387.9 678.4,388.0 681.2,388.0 684.3,387.9 687.1,387.8 689.9,387.7 692.9,387.6 695.9,387.7 698.6,388.2 701.7,387.6 704.2,387.8 707.3,387.5 710.3,387.6 713.1,387.3 716.1,387.7 718.9,387.7 721.6,387.8 724.4,387.7 727.5,387.2 730.3,387.4 733.3,387.6 736.1,387.6 739.1,387.2 742.1,387.4 744.9,387.6 747.7,387.2 750.5,387.3 753.3,387.2 756.5,387.7 759.5,387.6 762.1,387.3 764.9,387.4 767.7,387.4 770.7,388.1 773.5,387.9 776.4,388.0 779.2,388.0 782.3,387.7 785.1,387.9 788.2,387.6 790.9,388.1 793.7,387.7 796.7,388.0 799.4,388.2 802.5,388.0 805.3,387.9 808.4,388.4 811.1,388.1 813.9,388.0 816.9,388.1 819.7,388.0 822.4,388.2 825.2,388.1 828.3,388.0 831.4,387.8 833.9,387.7 836.9,387.9 839.7,388.0 842.9,387.8 846.0,387.7 848.5,387.9 851.3,387.8 854.1,387.8 857.1,387.4 859.9,387.5 862.9,387.8 865.9,387.7 868.7,387.5 871.5,387.5 874.6,387.4 877.5,387.8 880.6,387.7 883.3,387.4 886.4,387.5 889.2,387.7 892.0,387.6 894.8,387.2 897.6,387.8 900.5,387.5 903.3,387.5 906.3,387.6 909.1,387.4 912.2,387.3 915.0,387.7 917.9,387.7 920.7,387.5 923.5,387.7 926.3,388.1 929.3,387.7 932.4,388.0 935.2,387.8 938.0,387.9 940.8,387.9 943.7,388.1 946.5,388.2 949.5,388.3 952.1,387.9 955.2,387.8 957.9,387.6 960.9,388.0 963.7,387.6 966.7,387.8 969.5,387.7 972.3,387.9 975.4,387.7 978.2,387.5 980.9,387.3 983.9,387.8 986.9,387.5 990.0,387.3 992.5,387.1 995.6,387.5 998.5,387.6 1001.3,387.1 1004.1,387.1 1007.1,387.3 1009.9,387.6 1012.7,387.0 1015.5,387.3 1018.3,387.0 1021.5,387.2 1024.3,387.1 1027.4,387.6 1030.1,387.2 1033.2,387.6 1036.0,387.5 1038.8,387.2 1041.6,387.3 1044.5,387.7 1047.6,387.6 1050.1,387.6 1053.1,387.6 1056.2,387.7 1059.1,387.8 1062.2,387.9 1065.0,387.8 1067.8,387.6 1070.8,388.2 1073.6,388.0 1076.4,387.9 1079.2,388.2 1082.0,387.8 1084.8,388.3 1087.7,388.0 1090.5,388.0 1093.6,387.9 1096.3,388.0 1099.4,387.9 1102.3,387.8 1105.1,387.8 1107.9,387.7 1111.0,387.8 1113.8,387.6 1116.6,387.9 1119.5,387.5 1122.5,387.5 1125.3,387.6 1128.1,387.3 1130.9,387.2 1134.0,387.5 1136.8,387.6 1139.7,387.4 1142.8,387.6 1145.5,387.6 1148.6,387.4 1151.4,387.6 1154.2,387.3 1157.1,387.1 1159.9,387.4 1162.7,387.2 1165.7,387.6 1168.5,387.0 1171.6,387.2 1174.4,387.3 1177.3,387.7 1180.1,387.5 1182.9,387.7 1186.0,387.4 1188.7,388.0 1191.5,387.5 1194.6,387.4 1197.5,387.6 1200.3,387.7 1203.4,388.0 1206.4,387.7" fill="none" stroke="#6fae55" stroke-opacity="0.5" stroke-width="0.7" marker-start="url(#m-pale)" marker-mid="url(#m-pale)" marker-end="url(#m-pale)"/>
<path d="M239.7,390.0 243.0,389.8 246.4,389.8 249.1,390.1 251.9,389.8 254.7,389.8 258.1,390.1 260.9,390.0 263.6,389.8 267.0,390.1 269.8,389.8 272.6,390.0 275.3,389.8 278.1,390.1 280.9,389.9 283.7,389.7 286.5,390.0 289.3,389.9 292.1,389.7 294.9,389.9 298.2,390.0 301.0,390.0 303.8,390.0 306.2,389.7 309.6,389.8 312.1,389.7 315.3,390.0 318.3,389.8 321.0,390.1 323.8,389.9 326.6,389.8 329.6,389.9 332.8,389.7 335.5,389.8 338.3,389.8 341.7,389.7 344.5,390.0 347.3,389.7 350.0,389.8 352.8,389.8 355.6,389.7 358.4,390.0 361.7,389.7 364.0,389.9 367.3,390.0 370.1,389.8 372.9,390.0 376.2,390.1 379.0,389.9 382.4,390.1 384.2,389.8 387.0,390.1 390.0,389.9 393.2,389.7 396.0,389.9 398.8,389.9 401.6,390.0 404.8,390.1 407.6,390.1 410.4,390.0 413.4,389.9 416.0,390.0 419.0,389.9 421.8,389.8 424.9,390.1 427.8,390.0 430.6,389.8 433.7,390.1 436.4,390.1 439.2,389.9 442.0,390.0 444.8,389.9 447.9,389.9 450.8,389.8 453.9,389.8 456.7,390.0 459.4,389.8 462.5,389.9 465.3,390.0 468.1,389.7 471.3,390.0 474.1,390.0 477.1,390.0 479.7,389.8 482.4,389.7 485.5,389.8 488.4,389.9 491.2,390.0 494.3,390.1 497.1,389.8 499.9,389.9 502.6,390.0 505.4,389.9 508.5,389.9 511.7,389.7 514.5,389.8 517.3,390.0 520.1,389.8 522.9,390.1 525.9,389.9 528.9,390.0 531.9,390.1 534.7,390.1 537.5,389.8 540.3,390.1 543.1,389.9 545.9,389.7 548.6,390.0 551.7,390.0 554.2,389.9 557.0,389.9 559.8,389.8 562.9,389.8 566.1,390.0 568.9,389.9 572.1,389.9 574.9,390.0 577.9,389.7 580.7,389.8 583.5,389.8 586.4,390.1 589.2,389.7 592.0,389.7 595.1,389.9 597.9,389.7 600.9,389.9 603.7,390.0 606.5,390.0 609.4,389.9 612.2,389.9 615.0,389.9 618.1,389.8 621.1,389.8 623.9,389.7 626.9,389.8 629.7,390.0 632.4,389.9 635.2,389.9 638.3,389.8 641.1,389.9 643.9,390.0 646.9,389.9 649.7,389.7 652.5,390.1 655.4,389.8 658.5,390.1 661.3,390.0 664.4,390.1 667.1,389.9 669.9,389.8 672.7,389.9 675.5,390.0 678.4,389.8 681.2,390.0 684.3,390.0 687.1,389.8 689.9,389.9 692.9,389.8 695.9,389.9 698.6,389.8 701.7,389.9 704.2,389.8 707.3,389.8 710.3,389.7 713.1,389.9 716.1,389.8 718.9,389.8 721.6,390.0 724.4,390.0 727.5,389.8 730.3,390.0 733.3,389.7 736.1,390.0 739.1,390.1 742.1,390.0 744.9,389.7 747.7,389.9 750.5,390.0 753.3,390.0 756.5,390.0 759.5,389.8 762.1,389.8 764.9,389.8 767.7,389.8 770.7,390.1 773.5,389.9 776.4,390.0 779.2,389.8 782.3,389.8 785.1,389.8 788.2,390.1 790.9,389.8 793.7,389.8 796.7,389.8 799.4,390.1 802.5,390.1 805.3,390.1 808.4,390.2 811.1,389.8 813.9,389.8 816.9,389.9 819.7,389.8 822.4,389.9 825.2,390.0 828.3,390.1 831.4,390.1 833.9,389.8 836.9,390.0 839.7,390.0 842.9,389.9 846.0,390.1 848.5,390.0 851.3,390.0 854.1,389.8 857.1,389.9 859.9,389.9 862.9,389.7 865.9,389.9 868.7,389.7 871.5,389.8 874.6,390.0 877.5,389.9 880.6,389.9 883.3,389.8 886.4,389.9 889.2,389.8 892.0,389.8 894.8,390.0 897.6,389.7 900.5,390.0 903.3,389.7 906.3,390.0 909.1,390.1 912.2,390.0 915.0,389.8 917.9,389.7 920.7,390.1 923.5,389.9 926.3,389.9 929.3,389.8 932.4,390.1 935.2,389.9 938.0,390.0 940.8,389.8 943.7,390.1 946.5,389.8 949.5,390.0 952.1,390.1 955.2,389.8 957.9,389.9 960.9,390.1 963.7,389.8 966.7,390.1 969.5,389.8 972.3,389.8 975.4,389.8 978.2,389.8 980.9,389.9 983.9,389.9 986.9,389.9 990.0,389.7 992.5,390.0 995.6,389.7 998.5,390.0 1001.3,390.0 1004.1,389.9 1007.1,389.7 1009.9,389.8 1012.7,389.9 1015.5,389.7 1018.3,389.9 1021.5,389.8 1024.3,389.8 1027.4,389.7 1030.1,389.8 1033.2,389.8 1036.0,389.9 1038.8,389.9 1041.6,390.0 1044.5,389.7 1047.6,389.8 1050.1,389.8 1053.1,390.0 1056.2,389.9 1059.1,389.8 1062.2,389.9 1065.0,390.1 1067.8,389.9 1070.8,389.8 1073.6,390.1 1076.4,390.1 1079.2,390.0 1082.0,389.9 1084.8,389.8 1087.7,390.1 1090.5,390.1 1093.6,390.0 1096.3,390.0 1099.4,389.9 1102.3,390.1 1105.1,390.0 1107.9,390.0 1111.0,389.7 1113.8,389.8 1116.6,390.0 1119.5,389.7 1122.5,390.0 1125.3,389.9 1128.1,389.7 1130.9,389.7 1134.0,389.8 1136.8,389.9 1139.7,390.0 1142.8,389.8 1145.5,390.0 1148.6,390.0 1151.4,389.9 1154.2,390.0 1157.1,389.8 1159.9,389.7 1162.7,389.8 1165.7,389.8 1168.5,389.8 1171.6,389.9 1174.4,390.0 1177.3,389.8 1180.1,389.9 1182.9,389.8 1186.0,389.7 1188.7,389.9 1191.5,389.9 1194.6,389.8 1197.5,389.9 1200.3,390.0 1203.4,389.8 1206.4,389.8" fill="none" stroke="#c23b22" stroke-opacity="0.75" stroke-width="1"/>
<path d="M239.7,391.7 243.0,391.7 246.4,391.7 249.1,391.7 251.9,391.7 254.7,391.8 258.1,391.8 260.9,391.7 263.6,391.9 267.0,391.8 269.8,391.7 272.6,391.7 275.3,391.7 278.1,391.8 280.9,391.8 283.7,391.7 286.5,391.7 289.3,391.7 292.1,391.5 294.9,391.6 298.2,391.8 301.0,391.7 303.8,391.6 306.2,391.7 309.6,391.7 312.1,391.6 315.3,391.9 318.3,391.7 321.0,391.8 323.8,391.6 326.6,391.6 329.6,391.7 332.8,391.8 335.5,391.7 338.3,391.7 341.7,391.6 344.5,391.7 347.3,391.7 350.0,391.6 352.8,391.6 355.6,391.7 358.4,391.6 361.7,391.8 364.0,391.7 367.3,391.8 370.1,391.7 372.9,391.9 376.2,391.6 379.0,391.8 382.4,391.9 384.2,391.8 387.0,391.8 390.0,391.9 393.2,391.8 396.0,391.8 398.8,391.7 401.6,391.8 404.8,391.8 407.6,391.8 410.4,391.6 413.4,391.6 416.0,391.7 419.0,391.8 421.8,391.7 424.9,391.8 427.8,391.8 430.6,391.8 433.7,391.6 436.4,391.6 439.2,391.7 442.0,391.7 444.8,391.7 447.9,391.8 450.8,391.6 453.9,391.8 456.7,391.7 459.4,391.6 462.5,391.6 465.3,391.7 468.1,391.8 471.3,391.7 474.1,391.8 477.1,391.6 479.7,391.8 482.4,391.6 485.5,391.8 488.4,391.8 491.2,391.8 494.3,391.7 497.1,391.8 499.9,391.9 502.6,391.7 505.4,391.8 508.5,391.8 511.7,391.8 514.5,391.8 517.3,391.8 520.1,391.7 522.9,391.7 525.9,391.8 528.9,391.6 531.9,391.7 534.7,391.9 537.5,391.7 540.3,391.6 543.1,391.7 545.9,391.8 548.6,391.6 551.7,391.7 554.2,391.9 557.0,391.9 559.8,391.6 562.9,391.7 566.1,391.8 568.9,391.8 572.1,391.8 574.9,391.8 577.9,391.6 580.7,391.8 583.5,391.8 586.4,391.6 589.2,391.6 592.0,391.8 595.1,391.6 597.9,391.7 600.9,391.6 603.7,391.7 606.5,391.6 609.4,391.6 612.2,391.5 615.0,391.8 618.1,391.6 621.1,391.7 623.9,391.6 626.9,391.7 629.7,391.6 632.4,391.7 635.2,391.8 638.3,391.8 641.1,391.8 643.9,391.8 646.9,391.9 649.7,391.8 652.5,391.9 655.4,391.8 658.5,391.8 661.3,391.7 664.4,391.7 667.1,391.9 669.9,391.7 672.7,391.8 675.5,391.7 678.4,391.7 681.2,391.7 684.3,391.8 687.1,391.8 689.9,391.6 692.9,391.9 695.9,391.7 698.6,391.7 701.7,391.9 704.2,391.7 707.3,391.7 710.3,391.6 713.1,391.8 716.1,391.6 718.9,391.7 721.6,391.7 724.4,391.6 727.5,391.8 730.3,391.6 733.3,391.7 736.1,391.8 739.1,391.6 742.1,391.7 744.9,391.7 747.7,391.7 750.5,391.6 753.3,391.8 756.5,391.7 759.5,391.7 762.1,391.7 764.9,391.6 767.7,391.8 770.7,391.6 773.5,391.8 776.4,391.7 779.2,391.8 782.3,391.8 785.1,391.6 788.2,391.7 790.9,391.7 793.7,391.8 796.7,391.8 799.4,391.8 802.5,391.8 805.3,391.7 808.4,391.7 811.1,391.9 813.9,391.7 816.9,391.6 819.7,391.7 822.4,391.9 825.2,391.8 828.3,391.9 831.4,391.8 833.9,391.6 836.9,391.7 839.7,391.7 842.9,391.6 846.0,391.6 848.5,391.7 851.3,391.7 854.1,391.7 857.1,391.7 859.9,391.7 862.9,391.7 865.9,391.8 868.7,391.7 871.5,391.7 874.6,391.6 877.5,391.8 880.6,391.8 883.3,391.8 886.4,391.6 889.2,391.6 892.0,391.7 894.8,391.7 897.6,391.6 900.5,391.6 903.3,391.7 906.3,391.8 909.1,391.8 912.2,391.7 915.0,391.8 917.9,391.7 920.7,391.7 923.5,391.6 926.3,391.9 929.3,391.7 932.4,391.9 935.2,391.9 938.0,391.7 940.8,391.8 943.7,391.6 946.5,391.8 949.5,391.9 952.1,391.8 955.2,391.7 957.9,391.6 960.9,391.6 963.7,391.7 966.7,391.8 969.5,391.9 972.3,391.7 975.4,391.8 978.2,391.8 980.9,391.9 983.9,391.9 986.9,391.7 990.0,391.8 992.5,391.6 995.6,391.8 998.5,391.6 1001.3,391.8 1004.1,391.8 1007.1,391.6 1009.9,391.8 1012.7,391.6 1015.5,391.8 1018.3,391.8 1021.5,391.6 1024.3,391.6 1027.4,391.6 1030.1,391.6 1033.2,391.8 1036.0,391.7 1038.8,391.6 1041.6,391.7 1044.5,391.6 1047.6,391.8 1050.1,391.6 1053.1,391.7 1056.2,391.9 1059.1,391.9 1062.2,391.7 1065.0,391.7 1067.8,391.9 1070.8,391.8 1073.6,391.7 1076.4,391.9 1079.2,391.7 1082.0,391.8 1084.8,391.9 1087.7,391.8 1090.5,391.7 1093.6,391.8 1096.3,391.7 1099.4,391.9 1102.3,391.7 1105.1,391.8 1107.9,391.7 1111.0,391.7 1113.8,391.7 1116.6,391.8 1119.5,391.6 1122.5,391.6 1125.3,391.6 1128.1,391.7 1130.9,391.8 1134.0,391.8 1136.8,391.6 1139.7,391.6 1142.8,391.6 1145.5,391.5 1148.6,391.2 1151.4,390.8 1154.2,390.6 1157.1,390.4 1159.9,390.2 1162.7,390.4 1165.7,390.6 1168.5,390.9 1171.6,391.1 1174.4,391.4 1177.3,391.6 1180.1,391.6 1182.9,391.8 1186.0,391.9 1188.7,391.8 1191.5,391.8 1194.6,391.7 1197.5,391.6 1200.3,391.6 1203.4,391.9 1206.4,391.7" fill="none" stroke="#d5732a" stroke-opacity="0.8" stroke-width="1"/>
<path d="M239.7,393.0 243.0,393.0 246.4,393.0 249.1,393.0 251.9,393.0 254.7,393.0 258.1,393.0 260.9,393.0 263.6,393.0 267.0,393.0 269.8,393.0 272.6,393.0 275.3,393.0 278.1,393.0 280.9,393.0 283.7,393.0 286.5,393.0 289.3,383.1 292.1,372.8 294.9,390.8 298.2,393.0 301.0,393.0 303.8,393.0 306.2,393.0 309.6,393.0 312.1,393.0 315.3,393.0 318.3,393.0 321.0,393.0 323.8,393.0 326.6,393.0 329.6,393.0 332.8,393.0 335.5,393.0 338.3,393.0 341.7,393.0 344.5,393.0 347.3,393.0 350.0,393.0 352.8,393.0 355.6,393.0 358.4,393.0 361.7,393.0 364.0,393.0 367.3,393.0 370.1,393.0 372.9,393.0 376.2,393.0 379.0,393.0 382.4,393.0 384.2,393.0 387.0,393.0 390.0,393.0 393.2,393.0 396.0,393.0 398.8,393.0 401.6,393.0 404.8,393.0 407.6,393.0 410.4,393.0 413.4,393.0 416.0,393.0 419.0,393.0 421.8,393.0 424.9,393.0 427.8,393.0 430.6,393.0 433.7,393.0 436.4,393.0 439.2,393.0 442.0,393.0 444.8,393.0 447.9,393.0 450.8,393.0 453.9,393.0 456.7,393.0 459.4,393.0 462.5,393.0 465.3,393.0 468.1,393.0 471.3,393.0 474.1,393.0 477.1,393.0 479.7,393.0 482.4,393.0 485.5,393.0 488.4,393.0 491.2,393.0 494.3,393.0 497.1,393.0 499.9,393.0 502.6,393.0 505.4,393.0 508.5,393.0 511.7,393.0 514.5,393.0 517.3,393.0 520.1,393.0 522.9,393.0 525.9,393.0 528.9,393.0 531.9,393.0 534.7,393.0 537.5,393.0 540.3,393.0 543.1,393.0 545.9,393.0 548.6,393.0 551.7,393.0 554.2,393.0 557.0,393.0 559.8,393.0 562.9,393.0 566.1,393.0 568.9,392.7 572.1,390.2 574.9,393.0 577.9,393.0 580.7,393.0 583.5,393.0 586.4,393.0 589.2,393.0 592.0,393.0 595.1,393.0 597.9,393.0 600.9,391.0 603.7,391.5 606.5,393.0 609.4,392.7 612.2,384.0 615.0,392.7 618.1,393.0 621.1,393.0 623.9,393.0 626.9,393.0 629.7,393.0 632.4,393.0 635.2,393.0 638.3,393.0 641.1,393.0 643.9,393.0 646.9,393.0 649.7,393.0 652.5,393.0 655.4,393.0 658.5,393.0 661.3,393.0 664.4,393.0 667.1,393.0 669.9,393.0 672.7,393.0 675.5,393.0 678.4,393.0 681.2,393.0 684.3,393.0 687.1,393.0 689.9,393.0 692.9,393.0 695.9,393.0 698.6,393.0 701.7,393.0 704.2,393.0 707.3,393.0 710.3,393.0 713.1,393.0 716.1,393.0 718.9,393.0 721.6,393.0 724.4,393.0 727.5,393.0 730.3,393.0 733.3,393.0 736.1,393.0 739.1,393.0 742.1,393.0 744.9,393.0 747.7,393.0 750.5,393.0 753.3,393.0 756.5,393.0 759.5,393.0 762.1,393.0 764.9,393.0 767.7,393.0 770.7,393.0 773.5,393.0 776.4,393.0 779.2,393.0 782.3,393.0 785.1,393.0 788.2,393.0 790.9,393.0 793.7,393.0 796.7,393.0 799.4,393.0 802.5,393.0 805.3,393.0 808.4,393.0 811.1,393.0 813.9,393.0 816.9,393.0 819.7,393.0 822.4,393.0 825.2,393.0 828.3,393.0 831.4,393.0 833.9,393.0 836.9,393.0 839.7,393.0 842.9,393.0 846.0,393.0 848.5,393.0 851.3,393.0 854.1,393.0 857.1,393.0 859.9,393.0 862.9,393.0 865.9,393.0 868.7,393.0 871.5,393.0 874.6,393.0 877.5,393.0 880.6,393.0 883.3,393.0 886.4,393.0 889.2,393.0 892.0,393.0 894.8,393.0 897.6,393.0 900.5,393.0 903.3,393.0 906.3,393.0 909.1,393.0 912.2,393.0 915.0,393.0 917.9,393.0 920.7,393.0 923.5,393.0 926.3,393.0 929.3,393.0 932.4,393.0 935.2,393.0 938.0,393.0 940.8,393.0 943.7,393.0 946.5,393.0 949.5,393.0 952.1,393.0 955.2,393.0 957.9,393.0 960.9,393.0 963.7,393.0 966.7,393.0 969.5,393.0 972.3,393.0 975.4,393.0 978.2,393.0 980.9,393.0 983.9,393.0 986.9,393.0 990.0,393.0 992.5,393.0 995.6,393.0 998.5,393.0 1001.3,393.0 1004.1,393.0 1007.1,393.0 1009.9,393.0 1012.7,393.0 1015.5,393.0 1018.3,393.0 1021.5,393.0 1024.3,393.0 1027.4,393.0 1030.1,393.0 1033.2,393.0 1036.0,393.0 1038.8,393.0 1041.6,393.0 1044.5,393.0 1047.6,393.0 1050.1,393.0 1053.1,393.0 1056.2,393.0 1059.1,393.0 1062.2,393.0 1065.0,393.0 1067.8,393.0 1070.8,393.0 1073.6,393.0 1076.4,393.0 1079.2,393.0 1082.0,393.0 1084.8,393.0 1087.7,393.0 1090.5,393.0 1093.6,393.0 1096.3,393.0 1099.4,393.0 1102.3,393.0 1105.1,393.0 1107.9,393.0 1111.0,393.0 1113.8,393.0 1116.6,393.0 1119.5,393.0 1122.5,393.0 1125.3,393.0 1128.1,393.0 1130.9,393.0 1134.0,393.0 1136.8,393.0 1139.7,393.0 1142.8,393.0 1145.5,393.0 1148.6,393.0 1151.4,393.0 1154.2,393.0 1157.1,393.0 1159.9,393.0 1162.7,393.0 1165.7,393.0 1168.5,393.0 1171.6,393.0 1174.4,393.0 1177.3,393.0 1180.1,393.0 1182.9,393.0 1186.0,393.0 1188.7,393.0 1191.5,393.0 1194.6,393.0 1197.5,393.0 1200.3,393.0 1203.4,393.0 1206.4,393.0 L1206.4,393.0 L239.7,393.0Z" fill="#d9a0ee" fill-opacity="0.95"/>
</g>
<line x1="1232" y1="191.5" x2="1402.5" y2="191.5" stroke="#d2d2d2" stroke-width="1"/>
<line x1="1232" y1="217.5" x2="1402.5" y2="217.5" stroke="#d2d2d2" stroke-width="1"/>
<line x1="1232" y1="243.5" x2="1402.5" y2="243.5" stroke="#d2d2d2" stroke-width="1"/>
<line x1="1232" y1="269.5" x2="1402.5" y2="269.5" stroke="#d2d2d2" stroke-width="1"/>
<line x1="1232" y1="295.5" x2="1402.5" y2="295.5" stroke="#d2d2d2" stroke-width="1"/>
<line x1="1232" y1="321.5" x2="1402.5" y2="321.5" stroke="#d2d2d2" stroke-width="1"/>
<line x1="1232" y1="347.5" x2="1402.5" y2="347.5" stroke="#d2d2d2" stroke-width="1"/>
<line x1="1232" y1="373.5" x2="1402.5" y2="373.5" stroke="#d2d2d2" stroke-width="1"/>
<line x1="1232" y1="399.5" x2="1402.5" y2="399.5" stroke="#d2d2d2" stroke-width="1"/>
<circle cx="1241.3" cy="205.5" r="4.7" fill="#6eb038"/>
<circle cx="1241.3" cy="231.5" r="4.7" fill="#3e97d9"/>
<circle cx="1241.3" cy="257.5" r="4.7" fill="#a5b537"/>
<circle cx="1241.3" cy="283.5" r="4.7" fill="#3d9aa5"/>
<circle cx="1241.3" cy="309.5" r="4.7" fill="#c23b22"/>
<circle cx="1241.3" cy="335.5" r="4.7" fill="#d5732a"/>
<circle cx="1241.3" cy="361.5" r="4.7" fill="#f1ba3c"/>
<circle cx="1241.3" cy="387.5" r="4.7" fill="#6a5fe0"/>
<circle cx="1241.3" cy="413.5" r="4.7" fill="#e33fe6"/>
<path d="M1222.3,198.0 L1227.3,202.8 L1222.3,207.6" fill="none" stroke="#6a6a6a" stroke-width="2.2"/>
<line x1="239.6" y1="500.70" x2="1207.06" y2="500.70" stroke="#d9dadc" stroke-width="1"/>
<line x1="239.6" y1="567.85" x2="1207.06" y2="567.85" stroke="#d9dadc" stroke-width="1"/>
<line x1="239.6" y1="634.05" x2="1207.06" y2="634.05" stroke="#d9dadc" stroke-width="1"/>
<line x1="239.6" y1="701.05" x2="1207.06" y2="701.05" stroke="#d9dadc" stroke-width="1"/>
<line x1="289.00" y1="500.5" x2="289.00" y2="701.05" stroke="#d9dadc" stroke-width="1"/>
<line x1="358.50" y1="500.5" x2="358.50" y2="701.05" stroke="#d9dadc" stroke-width="1"/>
<line x1="428.00" y1="500.5" x2="428.00" y2="701.05" stroke="#d9dadc" stroke-width="1"/>
<line x1="497.50" y1="500.5" x2="497.50" y2="701.05" stroke="#d9dadc" stroke-width="1"/>
<line x1="566.50" y1="500.5" x2="566.50" y2="701.05" stroke="#d9dadc" stroke-width="1"/>
<line x1="635.50" y1="500.5" x2="635.50" y2="701.05" stroke="#d9dadc" stroke-width="1"/>
<line x1="704.50" y1="500.5" x2="704.50" y2="701.05" stroke="#d9dadc" stroke-width="1"/>
<line x1="773.50" y1="500.5" x2="773.50" y2="701.05" stroke="#d9dadc" stroke-width="1"/>
<line x1="843.50" y1="500.5" x2="843.50" y2="701.05" stroke="#d9dadc" stroke-width="1"/>
<line x1="912.60" y1="500.5" x2="912.60" y2="701.05" stroke="#d9dadc" stroke-width="1"/>
<line x1="981.50" y1="500.5" x2="981.50" y2="701.05" stroke="#d9dadc" stroke-width="1"/>
<line x1="1050.60" y1="500.5" x2="1050.60" y2="701.05" stroke="#d9dadc" stroke-width="1"/>
<line x1="1119.60" y1="500.5" x2="1119.60" y2="701.05" stroke="#d9dadc" stroke-width="1"/>
<line x1="1188.56" y1="500.5" x2="1188.56" y2="701.05" stroke="#d9dadc" stroke-width="1"/>
<line x1="240.1" y1="500.5" x2="240.1" y2="701.05" stroke="#d4d5d8" stroke-width="1"/>
<line x1="1206.56" y1="500.5" x2="1206.56" y2="701.05" stroke="#d9dadc" stroke-width="1"/>
<g>
<path d="M239.7,673.2 243.0,639.9 246.4,648.1 249.1,654.8 251.9,658.1 254.7,662.6 258.1,662.0 260.9,663.2 263.6,664.3 267.0,660.9 269.8,659.2 272.6,659.0 275.3,660.4 278.1,662.6 280.9,657.0 283.7,652.6 286.5,639.2 289.3,671.2 292.1,701.0 294.9,701.0 L294.9,701.0 L239.7,701.0Z" fill="#45a39a" fill-opacity="0.48"/>
<path d="M239.7,673.2 243.0,639.9 246.4,648.1 249.1,654.8 251.9,658.1 254.7,662.6 258.1,662.0 260.9,663.2 263.6,664.3 267.0,660.9 269.8,659.2 272.6,659.0 275.3,660.4 278.1,662.6 280.9,657.0 283.7,652.6 286.5,639.2 289.3,671.2 292.1,701.0 294.9,701.0" fill="none" stroke="#45a39a" stroke-opacity="0.78" stroke-width="1.25" stroke-linejoin="round" marker-start="url(#m-teal2)" marker-mid="url(#m-teal2)" marker-end="url(#m-teal2)"/>
<path d="M286.5,701.0 289.3,667.9 292.1,644.6 294.9,617.6 298.2,614.4 301.0,605.4 303.8,507.4 306.2,571.4 309.6,564.5 312.1,574.7 315.3,577.0 318.3,589.8 321.0,586.0 323.8,582.5 326.6,585.9 329.6,575.3 332.8,581.4 335.5,576.0 338.3,575.0 341.7,577.1 344.5,591.4 347.3,609.3 350.0,600.0 352.8,590.9 355.6,609.3 358.4,595.9 361.7,613.7 364.0,603.2 367.3,597.6 370.1,604.8 372.9,605.9 376.2,612.6 379.0,619.3 382.4,623.2 384.2,645.6 387.0,658.0 390.0,651.1 393.2,656.0 396.0,651.8 398.8,659.0 401.6,655.3 404.8,656.7 407.6,660.0 410.4,651.4 413.4,654.6 416.0,660.0 419.0,648.6 421.8,656.0 424.9,639.3 427.8,635.8 430.6,617.7 433.7,617.0 436.4,616.7 439.2,611.6 442.0,590.0 444.8,609.5 447.9,596.8 450.8,585.4 453.9,600.3 456.7,617.0 459.4,607.2 462.5,606.8 465.3,598.9 468.1,605.1 471.3,596.8 474.1,588.4 477.1,583.2 479.7,582.6 482.4,598.9 485.5,603.7 488.4,604.9 491.2,624.0 494.3,618.4 497.1,613.5 499.9,608.2 502.6,621.2 505.4,616.3 508.5,601.0 511.7,608.6 514.5,614.2 517.3,621.2 520.1,627.4 522.9,635.1 525.9,642.1 528.9,651.1 531.9,656.7 534.7,659.5 537.5,661.0 540.3,651.4 543.1,651.8 545.9,656.0 548.6,648.1 551.7,655.3 554.2,658.8 557.0,653.9 559.8,649.7 562.9,640.0 566.1,639.3 568.9,701.0 572.1,701.0 L572.1,701.0 L286.5,701.0Z" fill="#3e97d9" fill-opacity="0.5"/>
<path d="M286.5,701.0 289.3,667.9 292.1,644.6 294.9,617.6 298.2,614.4 301.0,605.4 303.8,507.4 306.2,571.4 309.6,564.5 312.1,574.7 315.3,577.0 318.3,589.8 321.0,586.0 323.8,582.5 326.6,585.9 329.6,575.3 332.8,581.4 335.5,576.0 338.3,575.0 341.7,577.1 344.5,591.4 347.3,609.3 350.0,600.0 352.8,590.9 355.6,609.3 358.4,595.9 361.7,613.7 364.0,603.2 367.3,597.6 370.1,604.8 372.9,605.9 376.2,612.6 379.0,619.3 382.4,623.2 384.2,645.6 387.0,658.0 390.0,651.1 393.2,656.0 396.0,651.8 398.8,659.0 401.6,655.3 404.8,656.7 407.6,660.0 410.4,651.4 413.4,654.6 416.0,660.0 419.0,648.6 421.8,656.0 424.9,639.3 427.8,635.8 430.6,617.7 433.7,617.0 436.4,616.7 439.2,611.6 442.0,590.0 444.8,609.5 447.9,596.8 450.8,585.4 453.9,600.3 456.7,617.0 459.4,607.2 462.5,606.8 465.3,598.9 468.1,605.1 471.3,596.8 474.1,588.4 477.1,583.2 479.7,582.6 482.4,598.9 485.5,603.7 488.4,604.9 491.2,624.0 494.3,618.4 497.1,613.5 499.9,608.2 502.6,621.2 505.4,616.3 508.5,601.0 511.7,608.6 514.5,614.2 517.3,621.2 520.1,627.4 522.9,635.1 525.9,642.1 528.9,651.1 531.9,656.7 534.7,659.5 537.5,661.0 540.3,651.4 543.1,651.8 545.9,656.0 548.6,648.1 551.7,655.3 554.2,658.8 557.0,653.9 559.8,649.7 562.9,640.0 566.1,639.3 568.9,701.0 572.1,701.0" fill="none" stroke="#3e97d9" stroke-opacity="0.78" stroke-width="1.25" stroke-linejoin="round" marker-start="url(#m-blue)" marker-mid="url(#m-blue)" marker-end="url(#m-blue)"/>
<path d="M562.9,701.0 566.1,701.0 568.9,635.1 572.1,628.8 574.9,607.0 577.9,607.9 580.7,610.7 583.5,596.8 586.4,601.7 589.2,600.7 592.0,572.4 595.1,587.7 597.9,572.4 600.9,602.6 603.7,596.8 606.5,591.5 609.4,592.7 612.2,646.2 615.0,701.0 618.1,701.0 L618.1,701.0 L562.9,701.0Z" fill="#a5b537" fill-opacity="0.5"/>
<path d="M562.9,701.0 566.1,701.0 568.9,635.1 572.1,628.8 574.9,607.0 577.9,607.9 580.7,610.7 583.5,596.8 586.4,601.7 589.2,600.7 592.0,572.4 595.1,587.7 597.9,572.4 600.9,602.6 603.7,596.8 606.5,591.5 609.4,592.7 612.2,646.2 615.0,701.0 618.1,701.0" fill="none" stroke="#a5b537" stroke-opacity="0.78" stroke-width="1.25" stroke-linejoin="round" marker-start="url(#m-olive)" marker-mid="url(#m-olive)" marker-end="url(#m-olive)"/>
<path d="M606.5,701.0 609.4,701.0 612.2,646.2 615.0,574.8 618.1,587.7 621.1,599.5 623.9,595.4 626.9,597.2 629.7,612.3 632.4,605.8 635.2,604.9 638.3,601.2 641.1,609.3 643.9,621.2 646.9,619.1 649.7,604.0 652.5,616.3 655.4,625.4 658.5,631.6 661.3,640.7 664.4,644.2 667.1,658.0 669.9,663.7 672.7,664.0 675.5,656.0 678.4,649.7 681.2,655.3 684.3,658.1 687.1,659.5 689.9,656.7 692.9,654.6 695.9,652.8 698.6,655.6 701.7,645.6 704.2,631.6 707.3,625.4 710.3,619.1 713.1,599.6 716.1,610.0 718.9,602.4 721.6,596.1 724.4,589.1 727.5,594.0 730.3,599.6 733.3,605.1 736.1,605.8 739.1,601.0 742.1,603.1 744.9,599.6 747.7,595.4 750.5,586.7 753.3,593.3 756.5,591.5 759.5,604.4 762.1,598.1 764.9,605.4 767.7,612.4 770.7,615.8 773.5,621.0 776.4,620.7 779.2,614.4 782.3,615.4 785.1,627.0 788.2,615.4 790.9,619.3 793.7,624.9 796.7,629.8 799.4,648.6 802.5,652.8 805.3,656.3 808.4,659.0 811.1,666.7 813.9,663.9 816.9,661.1 819.7,657.2 822.4,661.8 825.2,659.5 828.3,665.3 831.4,666.0 833.9,658.3 836.9,652.8 839.7,643.7 842.9,638.1 846.0,645.5 848.5,628.4 851.3,618.6 854.1,610.3 857.1,608.2 859.9,602.9 862.9,596.3 865.9,606.8 868.7,598.7 871.5,607.1 874.6,598.7 877.5,595.4 880.6,597.0 883.3,599.8 886.4,601.9 889.2,606.8 892.0,610.3 894.8,599.8 897.6,604.7 900.5,603.3 903.3,594.9 906.3,597.7 909.1,612.4 912.2,608.9 915.0,610.3 917.9,595.4 920.7,614.4 923.5,605.1 926.3,611.0 929.3,609.8 932.4,633.3 935.2,636.7 938.0,634.4 940.8,643.7 943.7,653.9 946.5,647.9 949.5,659.7 952.1,661.8 955.2,652.8 957.9,650.0 960.9,654.9 963.7,650.7 966.7,647.9 969.5,653.5 972.3,652.5 975.4,653.5 978.2,641.9 980.9,638.8 983.9,631.9 986.9,619.3 990.0,609.8 992.5,591.7 995.6,585.9 998.5,586.6 1001.3,591.7 1004.1,581.7 1007.1,571.9 1009.9,590.1 1012.7,587.5 1015.5,592.1 1018.3,590.8 1021.5,579.6 1024.3,591.4 1027.4,599.5 1030.1,589.4 1033.2,589.4 1036.0,593.5 1038.8,595.6 1041.6,600.5 1044.5,587.0 1047.6,593.2 1050.1,604.6 1053.1,590.8 1056.2,601.5 1059.1,592.6 1062.2,596.3 1065.0,616.5 1067.8,607.9 1070.8,618.2 1073.6,636.7 1076.4,640.2 1079.2,633.3 1082.0,657.0 1084.8,660.9 1087.7,657.7 1090.5,662.8 1093.6,659.5 1096.3,658.1 1099.4,656.7 1102.3,654.2 1105.1,661.4 1107.9,654.2 1111.0,650.0 1113.8,650.8 1116.6,638.5 1119.5,642.2 1122.5,634.3 1125.3,620.4 1128.1,605.4 1130.9,604.3 1134.0,605.3 1136.8,604.0 1139.7,599.4 1142.8,585.1 1145.5,597.2 1148.6,609.2 1151.4,590.4 1154.2,583.8 1157.1,575.4 1159.9,590.5 1162.7,581.7 1165.7,588.6 1168.5,581.6 1171.6,591.1 1174.4,587.6 1177.3,600.8 1180.1,599.9 1182.9,612.7 1186.0,607.8 1188.7,611.3 1191.5,617.6 1194.6,605.4 1197.5,607.8 1200.3,620.4 1203.4,614.4 1206.4,619.9 L1206.4,701.0 L606.5,701.0Z" fill="#6eb038" fill-opacity="0.47"/>
<path d="M606.5,701.0 609.4,701.0 612.2,646.2 615.0,574.8 618.1,587.7 621.1,599.5 623.9,595.4 626.9,597.2 629.7,612.3 632.4,605.8 635.2,604.9 638.3,601.2 641.1,609.3 643.9,621.2 646.9,619.1 649.7,604.0 652.5,616.3 655.4,625.4 658.5,631.6 661.3,640.7 664.4,644.2 667.1,658.0 669.9,663.7 672.7,664.0 675.5,656.0 678.4,649.7 681.2,655.3 684.3,658.1 687.1,659.5 689.9,656.7 692.9,654.6 695.9,652.8 698.6,655.6 701.7,645.6 704.2,631.6 707.3,625.4 710.3,619.1 713.1,599.6 716.1,610.0 718.9,602.4 721.6,596.1 724.4,589.1 727.5,594.0 730.3,599.6 733.3,605.1 736.1,605.8 739.1,601.0 742.1,603.1 744.9,599.6 747.7,595.4 750.5,586.7 753.3,593.3 756.5,591.5 759.5,604.4 762.1,598.1 764.9,605.4 767.7,612.4 770.7,615.8 773.5,621.0 776.4,620.7 779.2,614.4 782.3,615.4 785.1,627.0 788.2,615.4 790.9,619.3 793.7,624.9 796.7,629.8 799.4,648.6 802.5,652.8 805.3,656.3 808.4,659.0 811.1,666.7 813.9,663.9 816.9,661.1 819.7,657.2 822.4,661.8 825.2,659.5 828.3,665.3 831.4,666.0 833.9,658.3 836.9,652.8 839.7,643.7 842.9,638.1 846.0,645.5 848.5,628.4 851.3,618.6 854.1,610.3 857.1,608.2 859.9,602.9 862.9,596.3 865.9,606.8 868.7,598.7 871.5,607.1 874.6,598.7 877.5,595.4 880.6,597.0 883.3,599.8 886.4,601.9 889.2,606.8 892.0,610.3 894.8,599.8 897.6,604.7 900.5,603.3 903.3,594.9 906.3,597.7 909.1,612.4 912.2,608.9 915.0,610.3 917.9,595.4 920.7,614.4 923.5,605.1 926.3,611.0 929.3,609.8 932.4,633.3 935.2,636.7 938.0,634.4 940.8,643.7 943.7,653.9 946.5,647.9 949.5,659.7 952.1,661.8 955.2,652.8 957.9,650.0 960.9,654.9 963.7,650.7 966.7,647.9 969.5,653.5 972.3,652.5 975.4,653.5 978.2,641.9 980.9,638.8 983.9,631.9 986.9,619.3 990.0,609.8 992.5,591.7 995.6,585.9 998.5,586.6 1001.3,591.7 1004.1,581.7 1007.1,571.9 1009.9,590.1 1012.7,587.5 1015.5,592.1 1018.3,590.8 1021.5,579.6 1024.3,591.4 1027.4,599.5 1030.1,589.4 1033.2,589.4 1036.0,593.5 1038.8,595.6 1041.6,600.5 1044.5,587.0 1047.6,593.2 1050.1,604.6 1053.1,590.8 1056.2,601.5 1059.1,592.6 1062.2,596.3 1065.0,616.5 1067.8,607.9 1070.8,618.2 1073.6,636.7 1076.4,640.2 1079.2,633.3 1082.0,657.0 1084.8,660.9 1087.7,657.7 1090.5,662.8 1093.6,659.5 1096.3,658.1 1099.4,656.7 1102.3,654.2 1105.1,661.4 1107.9,654.2 1111.0,650.0 1113.8,650.8 1116.6,638.5 1119.5,642.2 1122.5,634.3 1125.3,620.4 1128.1,605.4 1130.9,604.3 1134.0,605.3 1136.8,604.0 1139.7,599.4 1142.8,585.1 1145.5,597.2 1148.6,609.2 1151.4,590.4 1154.2,583.8 1157.1,575.4 1159.9,590.5 1162.7,581.7 1165.7,588.6 1168.5,581.6 1171.6,591.1 1174.4,587.6 1177.3,600.8 1180.1,599.9 1182.9,612.7 1186.0,607.8 1188.7,611.3 1191.5,617.6 1194.6,605.4 1197.5,607.8 1200.3,620.4 1203.4,614.4 1206.4,619.9" fill="none" stroke="#6eb038" stroke-opacity="0.78" stroke-width="1.25" stroke-linejoin="round" marker-start="url(#m-green)" marker-mid="url(#m-green)" marker-end="url(#m-green)"/>
<path d="M239.7,701.0 243.0,701.0 246.4,701.0 249.1,701.0 251.9,701.0 254.7,701.0 258.1,701.0 260.9,701.0 263.6,701.0 267.0,701.0 269.8,701.0 272.6,701.0 275.3,701.0 278.1,701.0 280.9,701.0 283.7,701.0 286.5,701.0 289.3,701.0 292.1,701.0 294.9,701.0 298.2,699.2 301.0,701.0 303.8,700.5 306.2,697.6 309.6,701.0 312.1,701.0 315.3,697.6 318.3,701.0 321.0,701.0 323.8,701.0 326.6,699.3 329.6,701.0 332.8,698.8 335.5,699.7 338.3,694.0 341.7,700.9 344.5,699.4 347.3,701.0 350.0,701.0 352.8,701.0 355.6,701.0 358.4,701.0 361.7,701.0 364.0,701.0 367.3,701.0 370.1,701.0 372.9,701.0 376.2,701.0 379.0,701.0 382.4,701.0 384.2,701.0 387.0,701.0 390.0,701.0 393.2,701.0 396.0,701.0 398.8,701.0 401.6,701.0 404.8,701.0 407.6,701.0 410.4,701.0 413.4,701.0 416.0,701.0 419.0,701.0 421.8,701.0 424.9,701.0 427.8,701.0 430.6,701.0 433.7,701.0 436.4,701.0 439.2,700.8 442.0,695.0 444.8,700.8 447.9,701.0 450.8,701.0 453.9,701.0 456.7,701.0 459.4,701.0 462.5,701.0 465.3,701.0 468.1,701.0 471.3,701.0 474.1,701.0 477.1,700.6 479.7,699.6 482.4,701.0 485.5,701.0 488.4,701.0 491.2,701.0 494.3,701.0 497.1,701.0 499.9,701.0 502.6,701.0 505.4,701.0 508.5,701.0 511.7,701.0 514.5,701.0 517.3,701.0 520.1,701.0 522.9,701.0 525.9,701.0 528.9,701.0 531.9,701.0 534.7,701.0 537.5,701.0 540.3,701.0 543.1,701.0 545.9,701.0 548.6,701.0 551.7,701.0 554.2,701.0 557.0,701.0 559.8,701.0 562.9,701.0 566.1,701.0 568.9,701.0 572.1,701.0 574.9,701.0 577.9,701.0 580.7,701.0 583.5,701.0 586.4,701.0 589.2,701.0 592.0,701.0 595.1,701.0 597.9,701.0 600.9,701.0 603.7,701.0 606.5,701.0 609.4,701.0 612.2,701.0 615.0,701.0 618.1,701.0 621.1,701.0 623.9,701.0 626.9,701.0 629.7,701.0 632.4,701.0 635.2,701.0 638.3,701.0 641.1,701.0 643.9,701.0 646.9,701.0 649.7,701.0 652.5,701.0 655.4,701.0 658.5,701.0 661.3,701.0 664.4,701.0 667.1,701.0 669.9,701.0 672.7,701.0 675.5,701.0 678.4,701.0 681.2,701.0 684.3,701.0 687.1,701.0 689.9,701.0 692.9,701.0 695.9,701.0 698.6,701.0 701.7,701.0 704.2,701.0 707.3,701.0 710.3,701.0 713.1,701.0 716.1,701.0 718.9,701.0 721.6,701.0 724.4,701.0 727.5,701.0 730.3,701.0 733.3,701.0 736.1,701.0 739.1,701.0 742.1,701.0 744.9,701.0 747.7,701.0 750.5,701.0 753.3,701.0 756.5,701.0 759.5,701.0 762.1,701.0 764.9,701.0 767.7,701.0 770.7,701.0 773.5,701.0 776.4,701.0 779.2,701.0 782.3,701.0 785.1,701.0 788.2,701.0 790.9,701.0 793.7,701.0 796.7,701.0 799.4,701.0 802.5,701.0 805.3,701.0 808.4,701.0 811.1,701.0 813.9,701.0 816.9,701.0 819.7,701.0 822.4,701.0 825.2,701.0 828.3,701.0 831.4,701.0 833.9,701.0 836.9,701.0 839.7,701.0 842.9,701.0 846.0,701.0 848.5,701.0 851.3,701.0 854.1,701.0 857.1,701.0 859.9,701.0 862.9,701.0 865.9,701.0 868.7,701.0 871.5,701.0 874.6,701.0 877.5,701.0 880.6,701.0 883.3,701.0 886.4,701.0 889.2,701.0 892.0,701.0 894.8,701.0 897.6,701.0 900.5,701.0 903.3,701.0 906.3,701.0 909.1,701.0 912.2,701.0 915.0,701.0 917.9,701.0 920.7,701.0 923.5,701.0 926.3,701.0 929.3,701.0 932.4,701.0 935.2,701.0 938.0,701.0 940.8,701.0 943.7,701.0 946.5,701.0 949.5,701.0 952.1,701.0 955.2,701.0 957.9,701.0 960.9,701.0 963.7,701.0 966.7,701.0 969.5,701.0 972.3,701.0 975.4,701.0 978.2,701.0 980.9,701.0 983.9,701.0 986.9,701.0 990.0,701.0 992.5,701.0 995.6,701.0 998.5,701.0 1001.3,701.0 1004.1,701.0 1007.1,701.0 1009.9,701.0 1012.7,701.0 1015.5,701.0 1018.3,701.0 1021.5,701.0 1024.3,701.0 1027.4,701.0 1030.1,701.0 1033.2,701.0 1036.0,701.0 1038.8,701.0 1041.6,701.0 1044.5,701.0 1047.6,701.0 1050.1,701.0 1053.1,701.0 1056.2,701.0 1059.1,701.0 1062.2,701.0 1065.0,701.0 1067.8,701.0 1070.8,701.0 1073.6,701.0 1076.4,701.0 1079.2,701.0 1082.0,701.0 1084.8,701.0 1087.7,701.0 1090.5,701.0 1093.6,701.0 1096.3,701.0 1099.4,701.0 1102.3,701.0 1105.1,701.0 1107.9,701.0 1111.0,701.0 1113.8,701.0 1116.6,701.0 1119.5,701.0 1122.5,701.0 1125.3,701.0 1128.1,701.0 1130.9,701.0 1134.0,701.0 1136.8,701.0 1139.7,701.0 1142.8,701.0 1145.5,701.0 1148.6,701.0 1151.4,701.0 1154.2,701.0 1157.1,701.0 1159.9,701.0 1162.7,701.0 1165.7,701.0 1168.5,701.0 1171.6,701.0 1174.4,701.0 1177.3,701.0 1180.1,701.0 1182.9,701.0 1186.0,701.0 1188.7,701.0 1191.5,701.0 1194.6,701.0 1197.5,701.0 1200.3,701.0 1203.4,701.0 1206.4,701.0 L1206.4,701.0 L239.7,701.0Z" fill="#2a6fb5" fill-opacity="0.75" stroke="#2a6fb5" stroke-width="0.8"/>
<path d="M239.7,701.0 243.0,701.0 246.4,701.0 249.1,701.0 251.9,701.0 254.7,701.0 258.1,701.0 260.9,701.0 263.6,701.0 267.0,701.0 269.8,701.0 272.6,701.0 275.3,701.0 278.1,701.0 280.9,701.0 283.7,701.0 286.5,701.0 289.3,701.0 292.1,701.0 294.9,701.0 298.2,701.0 301.0,701.0 303.8,701.0 306.2,701.0 309.6,701.0 312.1,701.0 315.3,701.0 318.3,701.0 321.0,701.0 323.8,701.0 326.6,701.0 329.6,701.0 332.8,701.0 335.5,701.0 338.3,701.0 341.7,701.0 344.5,701.0 347.3,701.0 350.0,701.0 352.8,701.0 355.6,701.0 358.4,701.0 361.7,701.0 364.0,701.0 367.3,701.0 370.1,701.0 372.9,701.0 376.2,701.0 379.0,701.0 382.4,701.0 384.2,701.0 387.0,701.0 390.0,701.0 393.2,701.0 396.0,701.0 398.8,701.0 401.6,701.0 404.8,701.0 407.6,701.0 410.4,701.0 413.4,701.0 416.0,701.0 419.0,701.0 421.8,701.0 424.9,701.0 427.8,701.0 430.6,701.0 433.7,701.0 436.4,701.0 439.2,701.0 442.0,701.0 444.8,701.0 447.9,701.0 450.8,701.0 453.9,701.0 456.7,701.0 459.4,701.0 462.5,701.0 465.3,701.0 468.1,701.0 471.3,701.0 474.1,701.0 477.1,701.0 479.7,701.0 482.4,701.0 485.5,701.0 488.4,701.0 491.2,701.0 494.3,701.0 497.1,701.0 499.9,701.0 502.6,701.0 505.4,701.0 508.5,701.0 511.7,701.0 514.5,701.0 517.3,701.0 520.1,701.0 522.9,701.0 525.9,701.0 528.9,701.0 531.9,701.0 534.7,701.0 537.5,701.0 540.3,701.0 543.1,701.0 545.9,701.0 548.6,701.0 551.7,701.0 554.2,701.0 557.0,701.0 559.8,701.0 562.9,701.0 566.1,701.0 568.9,701.0 572.1,701.0 574.9,701.0 577.9,701.0 580.7,701.0 583.5,701.0 586.4,701.0 589.2,701.0 592.0,701.0 595.1,701.0 597.9,701.0 600.9,701.0 603.7,701.0 606.5,701.0 609.4,701.0 612.2,701.0 615.0,701.0 618.1,701.0 621.1,698.0 623.9,692.9 626.9,691.5 629.7,696.6 632.4,701.0 635.2,701.0 638.3,701.0 641.1,701.0 643.9,701.0 646.9,701.0 649.7,701.0 652.5,701.0 655.4,701.0 658.5,701.0 661.3,701.0 664.4,701.0 667.1,701.0 669.9,701.0 672.7,701.0 675.5,701.0 678.4,701.0 681.2,701.0 684.3,701.0 687.1,701.0 689.9,701.0 692.9,701.0 695.9,701.0 698.6,701.0 701.7,701.0 704.2,701.0 707.3,701.0 710.3,701.0 713.1,701.0 716.1,701.0 718.9,701.0 721.6,701.0 724.4,701.0 727.5,701.0 730.3,701.0 733.3,701.0 736.1,701.0 739.1,701.0 742.1,701.0 744.9,701.0 747.7,701.0 750.5,701.0 753.3,701.0 756.5,701.0 759.5,701.0 762.1,701.0 764.9,701.0 767.7,701.0 770.7,701.0 773.5,701.0 776.4,701.0 779.2,701.0 782.3,701.0 785.1,701.0 788.2,701.0 790.9,701.0 793.7,701.0 796.7,701.0 799.4,701.0 802.5,701.0 805.3,701.0 808.4,701.0 811.1,701.0 813.9,701.0 816.9,701.0 819.7,701.0 822.4,701.0 825.2,701.0 828.3,701.0 831.4,701.0 833.9,701.0 836.9,701.0 839.7,701.0 842.9,701.0 846.0,701.0 848.5,701.0 851.3,701.0 854.1,701.0 857.1,701.0 859.9,701.0 862.9,701.0 865.9,701.0 868.7,701.0 871.5,701.0 874.6,701.0 877.5,701.0 880.6,701.0 883.3,701.0 886.4,701.0 889.2,701.0 892.0,701.0 894.8,701.0 897.6,701.0 900.5,701.0 903.3,701.0 906.3,701.0 909.1,701.0 912.2,701.0 915.0,701.0 917.9,701.0 920.7,701.0 923.5,701.0 926.3,701.0 929.3,701.0 932.4,701.0 935.2,701.0 938.0,701.0 940.8,701.0 943.7,701.0 946.5,701.0 949.5,701.0 952.1,701.0 955.2,701.0 957.9,701.0 960.9,701.0 963.7,701.0 966.7,701.0 969.5,701.0 972.3,701.0 975.4,701.0 978.2,701.0 980.9,701.0 983.9,701.0 986.9,701.0 990.0,701.0 992.5,701.0 995.6,701.0 998.5,701.0 1001.3,701.0 1004.1,701.0 1007.1,701.0 1009.9,701.0 1012.7,701.0 1015.5,701.0 1018.3,701.0 1021.5,701.0 1024.3,701.0 1027.4,701.0 1030.1,701.0 1033.2,701.0 1036.0,701.0 1038.8,701.0 1041.6,701.0 1044.5,701.0 1047.6,699.2 1050.1,690.9 1053.1,701.0 1056.2,701.0 1059.1,701.0 1062.2,701.0 1065.0,701.0 1067.8,701.0 1070.8,701.0 1073.6,701.0 1076.4,701.0 1079.2,701.0 1082.0,701.0 1084.8,701.0 1087.7,701.0 1090.5,701.0 1093.6,701.0 1096.3,701.0 1099.4,701.0 1102.3,701.0 1105.1,701.0 1107.9,701.0 1111.0,701.0 1113.8,701.0 1116.6,701.0 1119.5,701.0 1122.5,701.0 1125.3,701.0 1128.1,701.0 1130.9,701.0 1134.0,698.9 1136.8,701.0 1139.7,701.0 1142.8,699.2 1145.5,701.0 1148.6,701.0 1151.4,701.0 1154.2,693.4 1157.1,680.0 1159.9,693.9 1162.7,701.0 1165.7,700.3 1168.5,694.5 1171.6,701.0 1174.4,701.0 1177.3,701.0 1180.1,701.0 1182.9,701.0 1186.0,701.0 1188.7,701.0 1191.5,701.0 1194.6,701.0 1197.5,701.0 1200.3,701.0 1203.4,701.0 1206.4,701.0 L1206.4,701.0 L239.7,701.0Z" fill="#b8862e" fill-opacity="0.75" stroke="#a8892e" stroke-width="0.9"/>
<line x1="240.0" y1="700.4" x2="612" y2="700.4" stroke="#84bb44" stroke-width="2.6" />
<line x1="240.0" y1="700.4" x2="612" y2="700.4" stroke="#9fca52" stroke-width="2.6" stroke-dasharray="1.4 1.485"/>
<line x1="612" y1="700.4" x2="1207.0" y2="700.4" stroke="#4da39d" stroke-width="2.6"/>
</g>
<line x1="1232" y1="499.5" x2="1402.5" y2="499.5" stroke="#d2d2d2" stroke-width="1"/>
<line x1="1232" y1="525.5" x2="1402.5" y2="525.5" stroke="#d2d2d2" stroke-width="1"/>
<line x1="1232" y1="551.5" x2="1402.5" y2="551.5" stroke="#d2d2d2" stroke-width="1"/>
<line x1="1232" y1="577.5" x2="1402.5" y2="577.5" stroke="#d2d2d2" stroke-width="1"/>
<line x1="1232" y1="603.5" x2="1402.5" y2="603.5" stroke="#d2d2d2" stroke-width="1"/>
<line x1="1232" y1="629.5" x2="1402.5" y2="629.5" stroke="#d2d2d2" stroke-width="1"/>
<line x1="1232" y1="655.5" x2="1402.5" y2="655.5" stroke="#d2d2d2" stroke-width="1"/>
<line x1="1232" y1="681.5" x2="1402.5" y2="681.5" stroke="#d2d2d2" stroke-width="1"/>
<line x1="1232" y1="707.5" x2="1402.5" y2="707.5" stroke="#d2d2d2" stroke-width="1"/>
<circle cx="1241.3" cy="513.5" r="4.7" fill="#6eb038"/>
<circle cx="1241.3" cy="539.5" r="4.7" fill="#3e97d9"/>
<circle cx="1241.3" cy="565.5" r="4.7" fill="#a5b537"/>
<circle cx="1241.3" cy="591.5" r="4.7" fill="#3d9aa5"/>
<circle cx="1241.3" cy="617.5" r="4.7" fill="#c23b22"/>
<circle cx="1241.3" cy="643.5" r="4.7" fill="#d5732a"/>
<circle cx="1241.3" cy="669.5" r="4.7" fill="#f1ba3c"/>
<circle cx="1241.3" cy="695.5" r="4.7" fill="#6a5fe0"/>
<circle cx="1241.3" cy="721.5" r="4.7" fill="#e33fe6"/>
<path d="M1222.3,506.0 L1227.3,510.8 L1222.3,515.6" fill="none" stroke="#6a6a6a" stroke-width="2.2"/>
</svg>
<svg width="1440" height="789" viewBox="0 0 1440 789" style="left:0;top:0">
<path d="M10,12.9 H42.9 L26.6,32.3 Q36.8,40.3 42.9,55.2 H10 Z" fill="#c8d5e1"/>
<path d="M10,29.1 Q19.5,29.3 26.6,32.3 L10,52.4 Z" fill="#fdfdfe"/>
<path d="M26.6,32.3 L29.6,34.9 L18.6,55.2 L10,55.2 L10,52.4 Z" fill="#fff" fill-opacity="0.55"/>
<path d="M10,12.9 H42.9 L41.2,14.9 H10Z" fill="#fff" fill-opacity="0.12"/>
<circle cx="27" cy="88" r="8.1" fill="none" stroke="#fff" stroke-width="2"/>
<path d="M31.9,83.3 L29.1,90.1 L22.1,92.7 L24.9,85.9 Z M27,86.6 a1.4,1.4 0 1,0 0.01,0Z" fill="#fff" fill-rule="evenodd"/>
<path d="M18.4,117 V132.6 H36" fill="none" stroke="#fff" stroke-width="2" stroke-linejoin="miter"/>
<rect x="22.6" y="121.8" width="4.6" height="6.6" fill="#fff"/><rect x="29.6" y="116.8" width="4.6" height="11.6" fill="#fff"/>
<circle cx="27" cy="164.1" r="8.1" fill="none" stroke="#fff" stroke-width="2"/>
<circle cx="27.4" cy="167" r="2.1" fill="#fff"/><path d="M27.4,167 L23,162.8" stroke="#fff" stroke-width="2" stroke-linecap="round"/>
<circle cx="27.2" cy="160.8" r="1.15" fill="#fff"/><circle cx="30.5" cy="163.1" r="1.15" fill="#fff"/>
<path d="M17.6,196.6 Q17.6,195.4 18.8,195.6 L22.6,196.6 Q27,195.6 31.4,196.6 L35.2,195.6 Q36.4,195.4 36.4,196.6 L36,201.8 Q35.6,206.6 31,208.4 Q27,209.8 23,208.4 Q18.4,206.6 18,201.8 Z" fill="#fff"/>
<ellipse cx="27" cy="205.1" rx="2.5" ry="1.55" fill="#20536f"/><ellipse cx="27" cy="200.6" rx="1.3" ry="0.8" fill="#20536f"/>
<path d="M22,199.3 L25,200.3 M32,199.3 L29,200.3" stroke="#20536f" stroke-opacity="0.35" stroke-width="0.7"/>
<rect x="16.9" y="231.75" width="9.8" height="2.3" rx="1" fill="#fff"/>
<rect x="19" y="236.75" width="15.5" height="2.3" rx="1" fill="#fff"/>
<rect x="19" y="241.65" width="9.5" height="2.3" rx="1" fill="#fff"/>
<rect x="28.8" y="246.54999999999998" width="7.5" height="2.3" rx="1" fill="#fff"/>
<g transform="translate(27.15,278.1) rotate(45)"><circle cx="0" cy="-7.5" r="5.3" fill="#fff"/><path d="M-1.95,-4 V10.8 A1.95,1.95 0 0,0 1.95,10.8 V-4 Z" fill="#fff"/><path d="M-2.1,-14 H2.1 V-8.6 L1.2,-7.4 H-1.2 L-2.1,-8.6 Z" fill="#20536f"/><circle cx="0" cy="10.2" r="0.85" fill="#20536f"/></g>
<path d="M27.2,325 L19.3,317.2 C16.6,314 18.2,309.2 22.3,309.2 C24.6,309.2 26.3,310.4 27.2,312 C28.1,310.4 29.8,309.2 32.1,309.2 C36.2,309.2 37.8,314 35.1,317.2 Z" fill="#fff"/>
<path d="M17.5,317 H23.6 L25,315 L26.6,319.6 L28.8,312.6 L30.6,318.2 L31.4,317 H37" fill="none" stroke="#20536f" stroke-width="0.95" stroke-linejoin="round"/>
<path d="M33.71,352.49 L36.06,352.52 L36.06,355.68 L33.71,355.71 L32.88,357.71 L34.53,359.39 L32.29,361.63 L30.61,359.98 L28.61,360.81 L28.58,363.16 L25.42,363.16 L25.39,360.81 L23.39,359.98 L21.71,361.63 L19.47,359.39 L21.12,357.71 L20.29,355.71 L17.94,355.68 L17.94,352.52 L20.29,352.49 L21.12,350.49 L19.47,348.81 L21.71,346.57 L23.39,348.22 L25.39,347.39 L25.42,345.04 L28.58,345.04 L28.61,347.39 L30.61,348.22 L32.29,346.57 L34.53,348.81 L32.88,350.49Z M30.40,354.10 A3.4,3.4 0 1,0 23.60,354.10 A3.4,3.4 0 1,0 30.40,354.10Z" fill="#fff" fill-rule="evenodd"/>
<path d="M19.8,390.6 C20.6,385.6 26.5,382.3 33.4,384 C30.9,384.7 29.4,385.6 28.3,386.9 C25.6,387.6 22.8,389 19.8,390.6 Z" fill="#fff"/>
<path d="M22,395.2 C21.2,391.4 23.6,387.6 28.2,387.4 C31.4,387.6 33,390.2 32.5,393.4 L31.5,393.7 L31.2,396.2 L30.3,399.8 L28.3,396.2 C26,396.7 23.6,396.2 22,395.2 Z" fill="#fff" fill-opacity="0.93"/>
<path d="M29.3,390.9 L31.5,391.6 L30.6,393.6 Z" fill="#20536f" fill-opacity="0.85"/>
<path d="M24.2,394.8 C24.6,391.6 26.2,389.6 28.6,388.8" fill="none" stroke="#20536f" stroke-opacity="0.25" stroke-width="0.7"/>
<circle cx="27.6" cy="424.9" r="3.7" fill="#fff"/>
<path d="M20.1,439 V434.4 Q20.1,430 24.6,430 H30.4 Q34.9,430 34.9,434.4 V439 Z" fill="#fff"/>
<path d="M23.6,727.5 H19 Q16.9,727.5 16.9,729.6 V739.6 Q16.9,741.7 19,741.7 H23.6" fill="none" stroke="#fff" stroke-width="1.8" stroke-linecap="round"/>
<path d="M20.4,731.2 H28.5 V726.6 L37.2,734.6 L28.5,742.6 V738 H20.4 Z" fill="#fff"/>
<circle cx="27.2" cy="770.2" r="9.1" fill="#fff"/><path d="M23,770.2 L30,765.8 V774.6 Z" fill="#20536f"/>
<path d="M1165.7,11.2 A4.9,4.9 0 1,0 1166.5,16.2" fill="none" stroke="#2d2d2d" stroke-width="1.9"/>
<path d="M1167.1,8.4 V13.4 H1162.1 Z" fill="#2d2d2d"/>
<path d="M1284.3,9.2 L1279.2,14.2 L1284.3,19.2" fill="none" stroke="#2d2d2d" stroke-width="2.4"/>
<path d="M1420.7,9.2 L1425.8,14.2 L1420.7,19.2" fill="none" stroke="#2d2d2d" stroke-width="2.4"/>
<circle cx="1314" cy="14.6" r="4.7" fill="none" stroke="#2d2d2d" stroke-width="1.5"/><path d="M1314,11.8 V15 H1311.6" fill="none" stroke="#2d2d2d" stroke-width="1.3"/>
<circle cx="1408" cy="42.2" r="4.3" fill="none" stroke="#fff" stroke-width="2.1"/><path d="M1411.2,45.6 L1415.2,49.6" stroke="#fff" stroke-width="2.6" stroke-linecap="round"/>
<path d="M262.6,107.5 H271.6 M267.1,103.1 V111.9" stroke="#3b7ba3" stroke-width="2.4" fill="none"/>
<path d="M0,789 V784 Q1,787.6 5,789 Z" fill="#fff" fill-opacity="0.9"/>
</svg>
<div class="t" style="left:54.20px;top:18.56px;font-size:25.5px;line-height:33px;letter-spacing:0.241px;color:#fff;font-weight:400;-webkit-text-stroke:0.55px #fff;">kibana</div>
<div class="t" style="left:56.60px;top:81.10px;font-size:13px;line-height:17px;letter-spacing:-0.147px;color:#fff;font-weight:400;-webkit-text-stroke:0.3px #fff;">Discover</div>
<div class="t" style="left:56.60px;top:119.10px;font-size:13px;line-height:17px;letter-spacing:-0.133px;color:#fff;font-weight:400;-webkit-text-stroke:0.3px #fff;">Visualize</div>
<div class="t" style="left:56.60px;top:157.10px;font-size:13px;line-height:17px;letter-spacing:0.110px;color:#fff;font-weight:400;-webkit-text-stroke:0.3px #fff;">Dashboard</div>
<div class="t" style="left:56.60px;top:195.10px;font-size:13px;line-height:17px;letter-spacing:0.093px;color:#fff;font-weight:400;-webkit-text-stroke:0.3px #fff;">Timelion</div>
<div class="t" style="left:56.60px;top:233.10px;font-size:13px;line-height:17px;letter-spacing:-0.724px;color:#fff;font-weight:400;-webkit-text-stroke:0.3px #fff;">APM</div>
<div class="t" style="left:56.60px;top:271.10px;font-size:13px;line-height:17px;letter-spacing:-0.027px;color:#fff;font-weight:400;-webkit-text-stroke:0.3px #fff;">Dev Tools</div>
<div class="t" style="left:56.60px;top:309.10px;font-size:13px;line-height:17px;letter-spacing:0.390px;color:#fff;font-weight:400;-webkit-text-stroke:0.3px #fff;">Monitoring</div>
<div class="t" style="left:56.60px;top:347.10px;font-size:13px;line-height:17px;letter-spacing:0.171px;color:#fff;font-weight:400;-webkit-text-stroke:0.3px #fff;">Management</div>
<div class="t" style="left:56.60px;top:385.10px;font-size:13px;line-height:17px;letter-spacing:-0.120px;color:#fff;font-weight:400;-webkit-text-stroke:0.3px #fff;">Search Guard</div>
<div class="t" style="left:56.60px;top:423.10px;font-size:13px;line-height:17px;letter-spacing:0.136px;color:#fff;font-weight:400;-webkit-text-stroke:0.3px #fff;">Tenants</div>
<div class="t" style="left:56.60px;top:725.10px;font-size:13px;line-height:17px;letter-spacing:0.164px;color:#fff;font-weight:400;-webkit-text-stroke:0.3px #fff;">Logout</div>
<div class="t" style="left:56.60px;top:763.10px;font-size:13px;line-height:17px;letter-spacing:-0.187px;color:#fff;font-weight:400;-webkit-text-stroke:0.3px #fff;">Collapse</div>
<div class="t" style="left:190.50px;top:4.70px;font-size:15px;line-height:20px;letter-spacing:-0.210px;color:#3b7ba3;font-weight:400;">Dashboard</div>
<div class="t" style="left:269.20px;top:4.70px;font-size:15px;line-height:20px;letter-spacing:0.000px;color:#2d2d2d;font-weight:400;">/</div>
<div class="t" style="left:282.00px;top:4.70px;font-size:15px;line-height:20px;letter-spacing:-0.197px;color:#2d2d2d;font-weight:400;">New Dashboard</div>
<div class="t" style="left:898.00px;top:5.43px;font-size:14.5px;line-height:19px;letter-spacing:-0.084px;color:#2d2d2d;font-weight:400;">Full screen</div>
<div class="t" style="left:990.00px;top:5.43px;font-size:14.5px;line-height:19px;letter-spacing:-0.141px;color:#2d2d2d;font-weight:400;">Share</div>
<div class="t" style="left:1049.00px;top:5.43px;font-size:14.5px;line-height:19px;letter-spacing:0.022px;color:#2d2d2d;font-weight:400;">Clone</div>
<div class="t" style="left:1109.00px;top:5.43px;font-size:14.5px;line-height:19px;letter-spacing:0.000px;color:#2d2d2d;font-weight:400;">Edit</div>
<div class="t" style="left:1171.70px;top:5.43px;font-size:14.5px;line-height:19px;letter-spacing:0.167px;color:#2d2d2d;font-weight:400;">Auto-refresh</div>
<div class="t" style="left:1326.00px;top:5.43px;font-size:14.5px;line-height:19px;letter-spacing:-0.316px;color:#2d2d2d;font-weight:400;">Last 7 days</div>
<div class="t" style="left:203.00px;top:33.65px;font-size:14px;line-height:18px;letter-spacing:0.083px;color:#737373;font-weight:400;">Search... (e.g. status:200 AND extension:PHP)</div>
<div class="t" style="left:1322.70px;top:34.95px;font-size:14px;line-height:18px;letter-spacing:0.336px;color:#3b7ba3;font-weight:400;">Options</div>
<div class="t" style="left:194.50px;top:98.75px;font-size:13px;line-height:17px;letter-spacing:0.133px;color:#3b7ba3;font-weight:400;">Add a filter</div>
<div class="t" style="left:197.50px;top:142.65px;font-size:14px;line-height:18px;letter-spacing:0.230px;color:#6c6c6c;font-weight:400;">http codes last 30 days</div>
<div class="t" style="left:197.50px;top:450.75px;font-size:14px;line-height:18px;letter-spacing:0.410px;color:#6c6c6c;font-weight:400;">pods</div>
<div class="t" style="left:200.64px;top:185.89px;font-size:11px;line-height:14px;letter-spacing:0.000px;color:#8a8a8a;font-weight:400;">15,000</div>
<div class="t" style="left:200.64px;top:253.04px;font-size:11px;line-height:14px;letter-spacing:0.000px;color:#8a8a8a;font-weight:400;">10,000</div>
<div class="t" style="left:206.77px;top:319.24px;font-size:11px;line-height:14px;letter-spacing:0.000px;color:#8a8a8a;font-weight:400;">5,000</div>
<div class="t" style="left:228.18px;top:386.24px;font-size:11px;line-height:14px;letter-spacing:0.000px;color:#8a8a8a;font-weight:400;">0</div>
<div class="t" style="left:275.23px;top:396.54px;font-size:11px;line-height:14px;letter-spacing:0.000px;color:#8a8a8a;font-weight:400;">00:00</div>
<div class="t" style="left:344.73px;top:396.54px;font-size:11px;line-height:14px;letter-spacing:0.000px;color:#8a8a8a;font-weight:400;">12:00</div>
<div class="t" style="left:414.23px;top:396.54px;font-size:11px;line-height:14px;letter-spacing:0.000px;color:#8a8a8a;font-weight:400;">00:00</div>
<div class="t" style="left:483.73px;top:396.54px;font-size:11px;line-height:14px;letter-spacing:0.000px;color:#8a8a8a;font-weight:400;">12:00</div>
<div class="t" style="left:552.73px;top:396.54px;font-size:11px;line-height:14px;letter-spacing:0.000px;color:#8a8a8a;font-weight:400;">00:00</div>
<div class="t" style="left:621.73px;top:396.54px;font-size:11px;line-height:14px;letter-spacing:0.000px;color:#8a8a8a;font-weight:400;">12:00</div>
<div class="t" style="left:690.73px;top:396.54px;font-size:11px;line-height:14px;letter-spacing:0.000px;color:#8a8a8a;font-weight:400;">00:00</div>
<div class="t" style="left:759.73px;top:396.54px;font-size:11px;line-height:14px;letter-spacing:0.000px;color:#8a8a8a;font-weight:400;">12:00</div>
<div class="t" style="left:829.73px;top:396.54px;font-size:11px;line-height:14px;letter-spacing:0.000px;color:#8a8a8a;font-weight:400;">00:00</div>
<div class="t" style="left:898.83px;top:396.54px;font-size:11px;line-height:14px;letter-spacing:0.000px;color:#8a8a8a;font-weight:400;">12:00</div>
<div class="t" style="left:967.73px;top:396.54px;font-size:11px;line-height:14px;letter-spacing:0.000px;color:#8a8a8a;font-weight:400;">00:00</div>
<div class="t" style="left:1036.83px;top:396.54px;font-size:11px;line-height:14px;letter-spacing:0.000px;color:#8a8a8a;font-weight:400;">12:00</div>
<div class="t" style="left:1105.83px;top:396.54px;font-size:11px;line-height:14px;letter-spacing:0.000px;color:#8a8a8a;font-weight:400;">00:00</div>
<div class="t" style="left:1174.79px;top:396.54px;font-size:11px;line-height:14px;letter-spacing:0.000px;color:#8a8a8a;font-weight:400;">12:00</div>
<div class="t" style="left:671.00px;top:410.04px;font-size:11px;line-height:14px;letter-spacing:0.417px;color:#777;font-weight:400;">per 30 minutes</div>
<div class="t" style="left:1251.00px;top:197.99px;font-size:11px;line-height:14px;letter-spacing:0.000px;color:#8a8a8a;font-weight:400;letter-spacing:0.2px;">200</div>
<div class="t" style="left:1368.87px;top:197.99px;font-size:11px;line-height:14px;letter-spacing:0.000px;color:#444;font-weight:400;">5,210</div>
<div class="t" style="left:1251.00px;top:223.99px;font-size:11px;line-height:14px;letter-spacing:0.000px;color:#8a8a8a;font-weight:400;letter-spacing:0.2px;">301</div>
<div class="t" style="left:1378.04px;top:223.99px;font-size:11px;line-height:14px;letter-spacing:0.000px;color:#444;font-weight:400;">448</div>
<div class="t" style="left:1251.00px;top:249.99px;font-size:11px;line-height:14px;letter-spacing:0.000px;color:#8a8a8a;font-weight:400;letter-spacing:0.2px;">404</div>
<div class="t" style="left:1378.04px;top:249.99px;font-size:11px;line-height:14px;letter-spacing:0.000px;color:#444;font-weight:400;">170</div>
<div class="t" style="left:1251.00px;top:275.99px;font-size:11px;line-height:14px;letter-spacing:0.000px;color:#8a8a8a;font-weight:400;letter-spacing:0.2px;">304</div>
<div class="t" style="left:1378.04px;top:275.99px;font-size:11px;line-height:14px;letter-spacing:0.000px;color:#444;font-weight:400;">109</div>
<div class="t" style="left:1251.00px;top:301.99px;font-size:11px;line-height:14px;letter-spacing:0.000px;color:#8a8a8a;font-weight:400;letter-spacing:0.2px;">302</div>
<div class="t" style="left:1384.15px;top:301.99px;font-size:11px;line-height:14px;letter-spacing:0.000px;color:#444;font-weight:400;">25</div>
<div class="t" style="left:1251.00px;top:327.99px;font-size:11px;line-height:14px;letter-spacing:0.000px;color:#8a8a8a;font-weight:400;letter-spacing:0.2px;">403</div>
<div class="t" style="left:1384.15px;top:327.99px;font-size:11px;line-height:14px;letter-spacing:0.000px;color:#444;font-weight:400;">21</div>
<div class="t" style="left:1251.00px;top:353.99px;font-size:11px;line-height:14px;letter-spacing:0.000px;color:#8a8a8a;font-weight:400;letter-spacing:0.2px;">206</div>
<div class="t" style="left:1390.28px;top:353.99px;font-size:11px;line-height:14px;letter-spacing:0.000px;color:#444;font-weight:400;">9</div>
<div class="t" style="left:1251.00px;top:379.99px;font-size:11px;line-height:14px;letter-spacing:0.000px;color:#8a8a8a;font-weight:400;letter-spacing:0.2px;">503</div>
<div class="t" style="left:1390.28px;top:379.99px;font-size:11px;line-height:14px;letter-spacing:0.000px;color:#444;font-weight:400;">1</div>
<div class="t" style="left:1251.00px;top:405.99px;font-size:11px;line-height:14px;letter-spacing:0.000px;color:#8a8a8a;font-weight:400;letter-spacing:0.2px;">-1</div>
<div class="t" style="left:1390.28px;top:405.99px;font-size:11px;line-height:14px;letter-spacing:0.000px;color:#444;font-weight:400;">7</div>
<div class="t" style="left:200.64px;top:493.89px;font-size:11px;line-height:14px;letter-spacing:0.000px;color:#8a8a8a;font-weight:400;">15,000</div>
<div class="t" style="left:200.64px;top:561.04px;font-size:11px;line-height:14px;letter-spacing:0.000px;color:#8a8a8a;font-weight:400;">10,000</div>
<div class="t" style="left:206.77px;top:627.24px;font-size:11px;line-height:14px;letter-spacing:0.000px;color:#8a8a8a;font-weight:400;">5,000</div>
<div class="t" style="left:228.18px;top:694.24px;font-size:11px;line-height:14px;letter-spacing:0.000px;color:#8a8a8a;font-weight:400;">0</div>
<div class="t" style="left:275.23px;top:704.54px;font-size:11px;line-height:14px;letter-spacing:0.000px;color:#8a8a8a;font-weight:400;">00:00</div>
<div class="t" style="left:344.73px;top:704.54px;font-size:11px;line-height:14px;letter-spacing:0.000px;color:#8a8a8a;font-weight:400;">12:00</div>
<div class="t" style="left:414.23px;top:704.54px;font-size:11px;line-height:14px;letter-spacing:0.000px;color:#8a8a8a;font-weight:400;">00:00</div>
<div class="t" style="left:483.73px;top:704.54px;font-size:11px;line-height:14px;letter-spacing:0.000px;color:#8a8a8a;font-weight:400;">12:00</div>
<div class="t" style="left:552.73px;top:704.54px;font-size:11px;line-height:14px;letter-spacing:0.000px;color:#8a8a8a;font-weight:400;">00:00</div>
<div class="t" style="left:621.73px;top:704.54px;font-size:11px;line-height:14px;letter-spacing:0.000px;color:#8a8a8a;font-weight:400;">12:00</div>
<div class="t" style="left:690.73px;top:704.54px;font-size:11px;line-height:14px;letter-spacing:0.000px;color:#8a8a8a;font-weight:400;">00:00</div>
<div class="t" style="left:759.73px;top:704.54px;font-size:11px;line-height:14px;letter-spacing:0.000px;color:#8a8a8a;font-weight:400;">12:00</div>
<div class="t" style="left:829.73px;top:704.54px;font-size:11px;line-height:14px;letter-spacing:0.000px;color:#8a8a8a;font-weight:400;">00:00</div>
<div class="t" style="left:898.83px;top:704.54px;font-size:11px;line-height:14px;letter-spacing:0.000px;color:#8a8a8a;font-weight:400;">12:00</div>
<div class="t" style="left:967.73px;top:704.54px;font-size:11px;line-height:14px;letter-spacing:0.000px;color:#8a8a8a;font-weight:400;">00:00</div>
<div class="t" style="left:1036.83px;top:704.54px;font-size:11px;line-height:14px;letter-spacing:0.000px;color:#8a8a8a;font-weight:400;">12:00</div>
<div class="t" style="left:1105.83px;top:704.54px;font-size:11px;line-height:14px;letter-spacing:0.000px;color:#8a8a8a;font-weight:400;">00:00</div>
<div class="t" style="left:1174.79px;top:704.54px;font-size:11px;line-height:14px;letter-spacing:0.000px;color:#8a8a8a;font-weight:400;">12:00</div>
<div class="t" style="left:671.00px;top:718.04px;font-size:11px;line-height:14px;letter-spacing:0.417px;color:#777;font-weight:400;">per 30 minutes</div>
<div class="t" style="left:1251.00px;top:505.99px;font-size:11px;line-height:14px;letter-spacing:0.000px;color:#8a8a8a;font-weight:400;letter-spacing:0.2px;">varnish-18-spg7l</div>
<div class="t" style="left:1368.87px;top:505.99px;font-size:11px;line-height:14px;letter-spacing:0.000px;color:#444;font-weight:400;">6,004</div>
<div class="t" style="left:1251.00px;top:531.99px;font-size:11px;line-height:14px;letter-spacing:0.000px;color:#8a8a8a;font-weight:400;letter-spacing:0.2px;">varnish-16-4nn8v</div>
<div class="t" style="left:1390.28px;top:531.99px;font-size:11px;line-height:14px;letter-spacing:0.000px;color:#444;font-weight:400;">0</div>
<div class="t" style="left:1251.00px;top:557.99px;font-size:11px;line-height:14px;letter-spacing:0.000px;color:#8a8a8a;font-weight:400;letter-spacing:0.2px;">varnish-17-z2zjb</div>
<div class="t" style="left:1390.28px;top:557.99px;font-size:11px;line-height:14px;letter-spacing:0.000px;color:#444;font-weight:400;">0</div>
<div class="t" style="left:1251.00px;top:583.99px;font-size:11px;line-height:14px;letter-spacing:0.000px;color:#8a8a8a;font-weight:400;letter-spacing:0.2px;">varnish-15-4dhs9</div>
<div class="t" style="left:1390.28px;top:583.99px;font-size:11px;line-height:14px;letter-spacing:0.000px;color:#444;font-weight:400;">0</div>
<div class="t" style="left:1251.00px;top:609.99px;font-size:11px;line-height:14px;letter-spacing:0.000px;color:#8a8a8a;font-weight:400;letter-spacing:0.2px;">nginx-93-qrmv2</div>
<div class="t" style="left:1390.28px;top:609.99px;font-size:11px;line-height:14px;letter-spacing:0.000px;color:#444;font-weight:400;">0</div>
<div class="t" style="left:1251.00px;top:635.99px;font-size:11px;line-height:14px;letter-spacing:0.000px;color:#8a8a8a;font-weight:400;letter-spacing:0.2px;">nginx-26-jrwpr</div>
<div class="t" style="left:1390.28px;top:635.99px;font-size:11px;line-height:14px;letter-spacing:0.000px;color:#444;font-weight:400;">0</div>
<div class="t" style="left:1251.00px;top:661.99px;font-size:11px;line-height:14px;letter-spacing:0.000px;color:#8a8a8a;font-weight:400;letter-spacing:0.2px;">nginx-92-kndhj</div>
<div class="t" style="left:1390.28px;top:661.99px;font-size:11px;line-height:14px;letter-spacing:0.000px;color:#444;font-weight:400;">0</div>
<div class="t" style="left:1251.00px;top:687.99px;font-size:11px;line-height:14px;letter-spacing:0.000px;color:#8a8a8a;font-weight:400;letter-spacing:0.2px;">nginx-84-g5c6b</div>
<div class="t" style="left:1390.28px;top:687.99px;font-size:11px;line-height:14px;letter-spacing:0.000px;color:#444;font-weight:400;">0</div>
<div class="t" style="left:1251.00px;top:713.99px;font-size:11px;line-height:14px;letter-spacing:0.000px;color:#8a8a8a;font-weight:400;letter-spacing:0.2px;">nginx-37-fzjx4</div>
<div class="t" style="left:1390.28px;top:713.99px;font-size:11px;line-height:14px;letter-spacing:0.000px;color:#444;font-weight:400;">0</div>
</body></html>
